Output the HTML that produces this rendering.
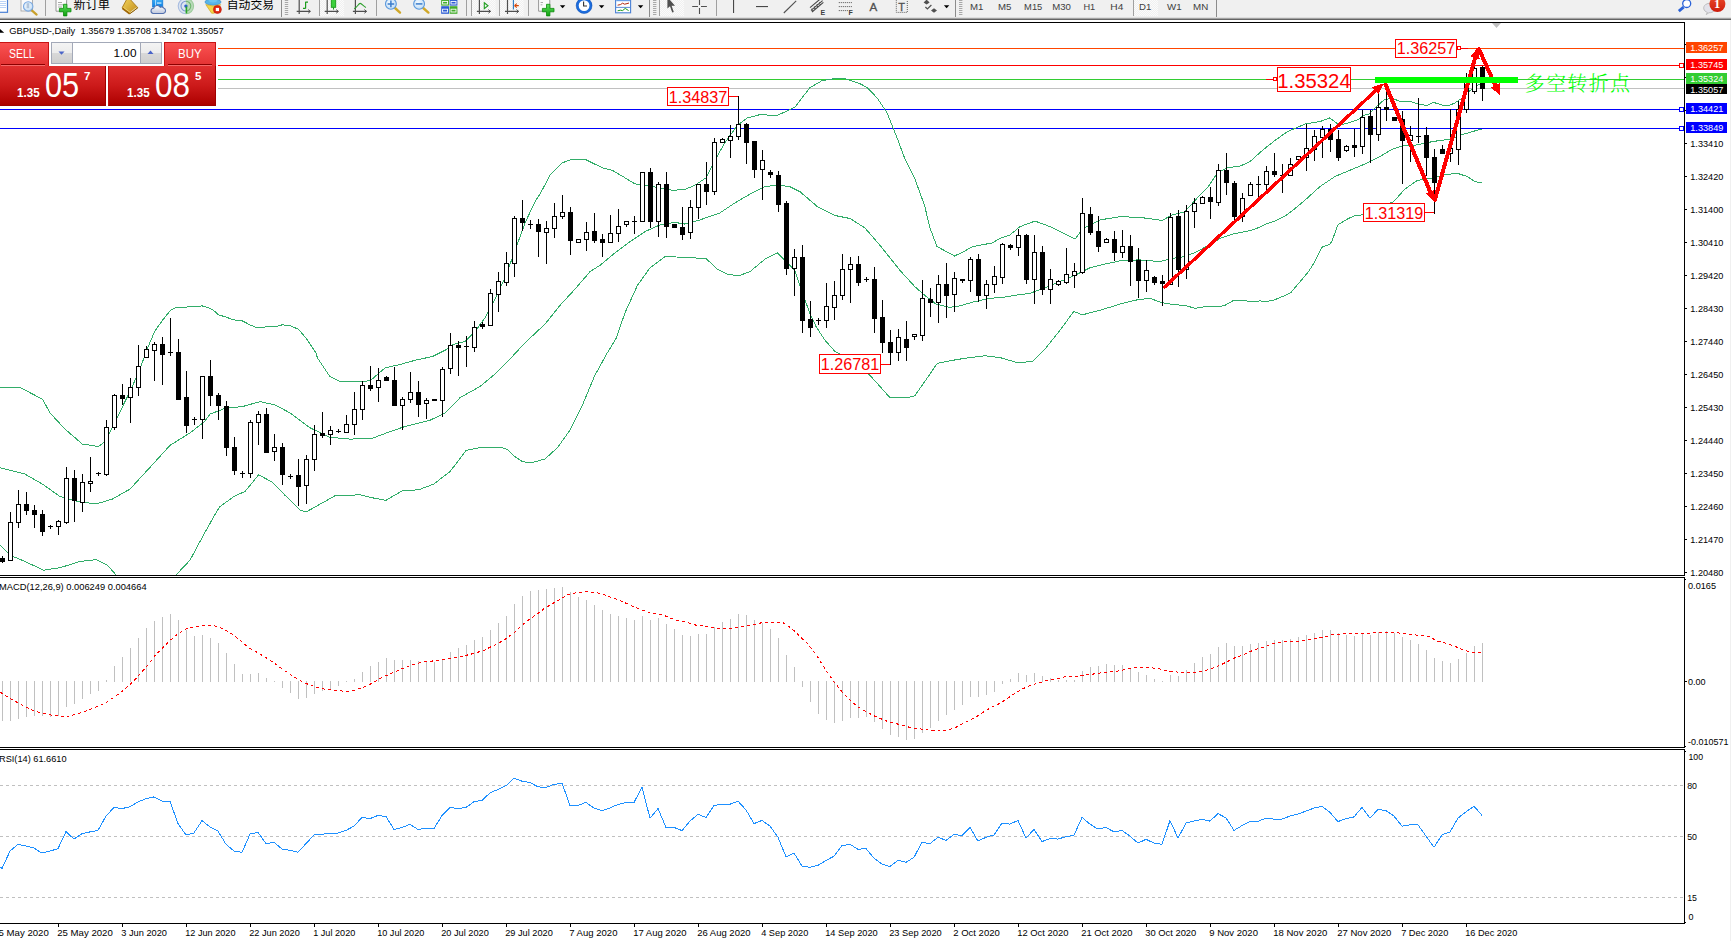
<!DOCTYPE html>
<html><head><meta charset="utf-8"><title>GBPUSD Daily</title>
<style>
html,body{margin:0;padding:0;background:#fff;}
body{width:1731px;height:941px;overflow:hidden;position:relative;font-family:"Liberation Sans","Noto Sans CJK SC",sans-serif;}
#tb{position:absolute;left:0;top:0;width:1731px;height:20px;background:#f0f0f0;overflow:hidden;}
#tb .bl{position:absolute;left:0;width:1731px;height:1px;}
#chart{position:absolute;left:0;top:0;}
#chart text{font-family:"Liberation Sans","Noto Sans CJK SC",sans-serif;}
#redge{position:absolute;left:1730px;top:20px;width:1px;height:921px;background:#f0f0f0;}
.t{position:absolute;white-space:nowrap;}
</style></head><body>
<svg id="chart" width="1731" height="941" viewBox="0 0 1731 941">
<defs><clipPath id="cm"><rect x="0" y="23" width="1684" height="552"/></clipPath></defs>
<g shape-rendering="crispEdges">
<rect x="0" y="22" width="1685" height="1" fill="#000"/>
<rect x="1684" y="22" width="1" height="554" fill="#000"/>
<rect x="1684" y="577" width="1" height="171" fill="#000"/>
<rect x="1684" y="749" width="1" height="175" fill="#000"/>
<rect x="0" y="575" width="1685" height="1" fill="#000"/>
<rect x="0" y="577" width="1685" height="1" fill="#000"/>
<rect x="0" y="747" width="1685" height="1" fill="#000"/>
<rect x="0" y="749" width="1685" height="1" fill="#000"/>
<rect x="0" y="923" width="1685" height="1" fill="#000"/>
<rect x="0" y="48" width="1684" height="1" fill="#ff4500"/>
<rect x="0" y="65" width="1684" height="1" fill="#ff0000"/>
<rect x="0" y="79" width="1684" height="1" fill="#32cd32"/>
<rect x="0" y="88" width="1684" height="1" fill="#c0c0c0"/>
<rect x="0" y="109" width="1684" height="1" fill="#0000ff"/>
<rect x="0" y="128" width="1684" height="1" fill="#0000ff"/>
</g>
<g shape-rendering="crispEdges" clip-path="url(#cm)">
<polyline points="0.0,387.9 20.0,387.5 42.5,399.2 50.0,412.9 65.0,429.1 82.4,444.1 98.6,446.5 105.0,441.5 117.0,417.9 131.8,387.8 141.2,365.4 148.7,345.4 154.9,331.0 162.4,320.4 170.5,310.2 177.4,307.0 187.3,307.0 197.3,306.7 201.7,305.8 207.3,307.3 213.5,310.4 218.5,314.8 226.0,317.1 233.5,319.8 242.2,320.8 251.0,325.4 257.8,327.9 266.0,326.9 274.7,326.9 282.2,324.8 290.9,326.0 298.4,329.2 305.9,337.9 316.0,352.9 317.4,357.9 330.0,376.7 340.0,381.6 355.0,381.5 370.0,380.9 385.0,367.9 400.0,364.5 415.0,360.3 432.5,356.5 445.0,350.3 452.4,344.8 465.0,341.5 475.0,331.5 485.0,317.8 495.0,299.1 505.0,277.9 515.0,250.5 525.0,223.0 535.0,201.7 540.0,194.1 550.0,175.3 562.5,162.8 570.0,159.9 586.2,159.9 602.4,167.8 612.4,170.3 625.0,177.8 635.0,183.9 647.4,185.3 660.0,188.0 672.3,190.3 684.8,189.5 694.8,185.3 706.0,177.8 714.8,160.4 724.8,142.9 737.3,125.4 747.2,117.9 759.7,114.7 777.2,115.4 794.7,107.4 809.7,87.9 822.2,80.5 834.6,78.7 845.9,79.0 859.6,83.5 867.1,87.5 877.1,97.9 887.1,112.9 897.1,137.9 904.5,157.9 914.5,177.8 924.5,205.3 930.0,228.0 937.0,246.5 954.5,256.0 963.5,251.7 972.3,246.7 992.3,242.9 1000.0,238.5 1010.0,234.9 1020.0,226.6 1035.0,221.1 1050.0,226.6 1065.0,234.1 1075.0,239.1 1082.4,229.1 1100.0,219.9 1120.0,216.7 1140.0,217.4 1162.3,220.4 1172.3,214.9 1184.8,211.7 1197.3,197.9 1207.2,187.9 1210.0,184.1 1217.5,172.8 1227.5,167.8 1240.0,166.1 1250.0,161.6 1262.4,150.4 1275.0,140.4 1287.4,131.6 1304.9,124.1 1319.9,121.6 1329.8,117.9 1339.8,125.4 1354.8,120.9 1358.2,119.5 1362.6,115.7 1369.5,113.8 1377.6,105.6 1383.9,100.0 1388.9,98.7 1396.4,100.0 1401.4,101.9 1412.1,101.9 1417.7,103.8 1424.0,105.0 1427.8,105.0 1432.8,102.8 1436.6,103.1 1441.6,105.0 1448.0,106.0 1455.0,102.9 1462.4,97.9 1470.0,90.5 1482.0,82.5" fill="none" stroke="#32ad69" stroke-width="1"/>
<polyline points="0.0,467.8 25.0,474.1 42.5,484.1 60.0,496.5 77.4,501.5 96.0,504.0 112.4,499.1 130.0,489.1 147.3,470.3 170.0,445.4 190.0,432.9 204.7,421.5 210.0,414.1 225.0,408.4 242.4,406.6 260.0,401.6 275.0,404.9 290.0,412.9 310.0,427.8 330.0,437.3 350.0,439.1 372.3,438.3 390.0,431.6 404.7,426.6 415.0,424.0 430.0,420.2 445.0,413.2 460.0,397.7 480.0,386.5 495.0,374.0 510.0,359.0 525.0,342.8 545.0,324.1 560.0,305.4 575.0,289.1 590.0,271.7 600.0,265.3 615.0,252.8 630.0,241.6 645.0,231.6 660.0,224.9 675.0,222.4 685.0,224.1 700.0,219.9 720.0,212.9 735.0,202.9 750.0,194.1 765.0,186.7 777.3,184.9 790.0,186.7 800.0,191.7 817.5,206.7 835.0,215.5 850.0,218.5 865.0,228.0 880.0,245.4 900.0,270.4 914.8,286.6 924.8,295.4 936.1,304.1 949.8,307.4 959.8,305.9 974.8,301.6 989.8,298.4 1004.7,297.1 1015.0,295.3 1030.0,293.3 1045.0,287.8 1060.0,281.6 1075.0,275.3 1090.0,267.8 1105.0,264.1 1122.3,260.4 1140.0,259.9 1160.0,261.6 1175.0,257.9 1185.0,256.6 1197.3,251.6 1211.2,243.5 1221.2,237.9 1232.4,234.2 1249.9,230.7 1256.2,228.6 1266.1,224.0 1274.9,221.1 1284.9,216.1 1291.1,211.7 1298.6,205.5 1304.9,200.3 1319.9,186.6 1334.8,176.6 1349.8,170.3 1364.8,164.1 1379.8,156.6 1392.3,149.1 1404.7,145.4 1416.0,145.1 1432.4,141.6 1450.0,139.1 1462.4,134.6 1474.8,130.9 1482.0,129.1" fill="none" stroke="#32ad69" stroke-width="1"/>
<polyline points="0.0,545.2 10.0,555.2 25.0,561.5 43.7,570.2 60.0,567.7 80.0,561.5 96.0,559.7 107.4,565.2 117.4,576.5" fill="none" stroke="#32ad69" stroke-width="1"/>
<polyline points="174.5,576.5 190.0,560.2 204.7,532.8 216.0,512.8 220.0,506.5 235.0,495.8 245.0,491.5 258.7,474.8 272.4,482.3 285.0,495.3 300.0,510.2 306.0,512.0 317.4,505.7 334.8,495.8 359.8,494.8 374.8,498.3 386.0,500.3 402.2,490.8 418.7,489.8 433.7,484.1 450.0,471.6 466.2,450.4 482.4,447.1 502.4,447.9 507.4,449.6 514.9,456.6 522.3,461.6 531.1,462.8 544.8,459.1 557.3,447.9 569.8,430.4 582.3,405.4 594.8,375.5 607.2,353.0 616.0,338.5 625.0,312.8 637.5,285.3 650.0,267.8 665.0,256.6 685.0,257.3 706.1,258.6 717.4,269.1 727.4,274.1 738.6,275.8 750.0,271.6 765.0,259.1 777.3,252.8 785.0,260.3 794.8,270.3 802.3,292.8 809.7,312.8 816.0,326.5 825.0,340.3 835.0,351.5 845.0,356.5 857.0,364.5 868.7,374.0 880.0,386.5 890.0,397.7 907.4,397.7 914.8,395.7 924.8,381.5 937.3,363.3 949.8,360.8 964.8,358.3 984.8,355.8 999.8,357.5 1017.5,362.7 1032.5,361.5 1045.0,349.0 1060.0,330.3 1073.7,311.5 1082.4,314.8 1100.0,310.3 1120.0,304.1 1137.3,299.8 1149.8,298.3 1162.3,302.8 1174.8,304.8 1184.8,305.3 1194.8,308.3 1208.7,306.2 1218.7,306.8 1225.0,305.3 1233.0,300.7 1246.2,300.9 1252.4,301.8 1259.9,300.9 1266.1,301.8 1274.9,299.7 1282.4,296.6 1291.0,292.6 1294.8,287.8 1302.3,279.1 1308.6,271.6 1314.8,261.6 1321.7,247.3 1329.8,244.2 1332.3,240.4 1337.3,226.1 1339.1,224.0 1347.2,219.2 1353.5,216.1 1362.8,214.8 1380.0,208.0 1393.7,201.5 1405.0,189.0 1417.4,180.3 1432.4,178.3 1444.9,174.6 1457.4,173.3 1467.4,176.6 1474.8,181.6 1482.0,182.8" fill="none" stroke="#32ad69" stroke-width="1"/>
</g>
<g shape-rendering="crispEdges">
<rect x="2" y="556" width="1" height="7" fill="#000"/>
<rect x="0" y="558" width="5" height="4" fill="#000"/>
<rect x="10" y="512" width="1" height="49" fill="#000"/>
<rect x="8" y="522" width="5" height="39" fill="#000"/>
<rect x="9" y="523" width="3" height="37" fill="#fff"/>
<rect x="18" y="490" width="1" height="38" fill="#000"/>
<rect x="16" y="504" width="5" height="19" fill="#000"/>
<rect x="17" y="505" width="3" height="17" fill="#fff"/>
<rect x="26" y="492" width="1" height="23" fill="#000"/>
<rect x="24" y="504" width="5" height="7" fill="#000"/>
<rect x="34" y="505" width="1" height="23" fill="#000"/>
<rect x="32" y="510" width="5" height="5" fill="#000"/>
<rect x="42" y="510" width="1" height="26" fill="#000"/>
<rect x="40" y="514" width="5" height="18" fill="#000"/>
<rect x="50" y="525" width="1" height="4" fill="#000"/>
<rect x="48" y="526" width="5" height="1" fill="#000"/>
<rect x="58" y="520" width="1" height="15" fill="#000"/>
<rect x="56" y="521" width="5" height="6" fill="#000"/>
<rect x="57" y="522" width="3" height="4" fill="#fff"/>
<rect x="66" y="467" width="1" height="57" fill="#000"/>
<rect x="64" y="478" width="5" height="45" fill="#000"/>
<rect x="65" y="479" width="3" height="43" fill="#fff"/>
<rect x="74" y="470" width="1" height="52" fill="#000"/>
<rect x="72" y="478" width="5" height="23" fill="#000"/>
<rect x="82" y="474" width="1" height="38" fill="#000"/>
<rect x="80" y="482" width="5" height="21" fill="#000"/>
<rect x="81" y="483" width="3" height="19" fill="#fff"/>
<rect x="90" y="457" width="1" height="35" fill="#000"/>
<rect x="88" y="481" width="5" height="3" fill="#000"/>
<rect x="89" y="482" width="3" height="1" fill="#fff"/>
<rect x="98" y="472" width="1" height="4" fill="#000"/>
<rect x="96" y="473" width="5" height="1" fill="#000"/>
<rect x="106" y="420" width="1" height="56" fill="#000"/>
<rect x="104" y="427" width="5" height="48" fill="#000"/>
<rect x="105" y="428" width="3" height="46" fill="#fff"/>
<rect x="114" y="394" width="1" height="36" fill="#000"/>
<rect x="112" y="395" width="5" height="33" fill="#000"/>
<rect x="113" y="396" width="3" height="31" fill="#fff"/>
<rect x="122" y="384" width="1" height="21" fill="#000"/>
<rect x="120" y="395" width="5" height="4" fill="#000"/>
<rect x="130" y="378" width="1" height="45" fill="#000"/>
<rect x="128" y="387" width="5" height="11" fill="#000"/>
<rect x="129" y="388" width="3" height="9" fill="#fff"/>
<rect x="138" y="345" width="1" height="51" fill="#000"/>
<rect x="136" y="366" width="5" height="22" fill="#000"/>
<rect x="137" y="367" width="3" height="20" fill="#fff"/>
<rect x="146" y="346" width="1" height="12" fill="#000"/>
<rect x="144" y="349" width="5" height="9" fill="#000"/>
<rect x="145" y="350" width="3" height="7" fill="#fff"/>
<rect x="154" y="342" width="1" height="39" fill="#000"/>
<rect x="152" y="344" width="5" height="7" fill="#000"/>
<rect x="153" y="345" width="3" height="5" fill="#fff"/>
<rect x="162" y="337" width="1" height="48" fill="#000"/>
<rect x="160" y="344" width="5" height="11" fill="#000"/>
<rect x="170" y="318" width="1" height="38" fill="#000"/>
<rect x="168" y="352" width="5" height="1" fill="#000"/>
<rect x="178" y="339" width="1" height="61" fill="#000"/>
<rect x="176" y="352" width="5" height="48" fill="#000"/>
<rect x="186" y="371" width="1" height="62" fill="#000"/>
<rect x="184" y="397" width="5" height="29" fill="#000"/>
<rect x="194" y="417" width="1" height="8" fill="#000"/>
<rect x="192" y="419" width="5" height="1" fill="#000"/>
<rect x="202" y="376" width="1" height="63" fill="#000"/>
<rect x="200" y="376" width="5" height="44" fill="#000"/>
<rect x="201" y="377" width="3" height="42" fill="#fff"/>
<rect x="210" y="360" width="1" height="46" fill="#000"/>
<rect x="208" y="376" width="5" height="20" fill="#000"/>
<rect x="218" y="393" width="1" height="27" fill="#000"/>
<rect x="216" y="395" width="5" height="11" fill="#000"/>
<rect x="226" y="401" width="1" height="55" fill="#000"/>
<rect x="224" y="406" width="5" height="42" fill="#000"/>
<rect x="234" y="437" width="1" height="38" fill="#000"/>
<rect x="232" y="447" width="5" height="24" fill="#000"/>
<rect x="242" y="471" width="1" height="7" fill="#000"/>
<rect x="240" y="473" width="5" height="1" fill="#000"/>
<rect x="250" y="420" width="1" height="58" fill="#000"/>
<rect x="248" y="422" width="5" height="52" fill="#000"/>
<rect x="249" y="423" width="3" height="50" fill="#fff"/>
<rect x="258" y="411" width="1" height="34" fill="#000"/>
<rect x="256" y="414" width="5" height="9" fill="#000"/>
<rect x="257" y="415" width="3" height="7" fill="#fff"/>
<rect x="266" y="408" width="1" height="45" fill="#000"/>
<rect x="264" y="414" width="5" height="39" fill="#000"/>
<rect x="274" y="434" width="1" height="27" fill="#000"/>
<rect x="272" y="447" width="5" height="5" fill="#000"/>
<rect x="273" y="448" width="3" height="3" fill="#fff"/>
<rect x="282" y="443" width="1" height="42" fill="#000"/>
<rect x="280" y="447" width="5" height="28" fill="#000"/>
<rect x="290" y="474" width="1" height="5" fill="#000"/>
<rect x="288" y="476" width="5" height="1" fill="#000"/>
<rect x="298" y="459" width="1" height="47" fill="#000"/>
<rect x="296" y="475" width="5" height="12" fill="#000"/>
<rect x="306" y="455" width="1" height="49" fill="#000"/>
<rect x="304" y="459" width="5" height="27" fill="#000"/>
<rect x="305" y="460" width="3" height="25" fill="#fff"/>
<rect x="314" y="425" width="1" height="46" fill="#000"/>
<rect x="312" y="434" width="5" height="26" fill="#000"/>
<rect x="313" y="435" width="3" height="24" fill="#fff"/>
<rect x="322" y="412" width="1" height="26" fill="#000"/>
<rect x="320" y="433" width="5" height="3" fill="#000"/>
<rect x="330" y="426" width="1" height="19" fill="#000"/>
<rect x="328" y="430" width="5" height="5" fill="#000"/>
<rect x="329" y="431" width="3" height="3" fill="#fff"/>
<rect x="338" y="429" width="1" height="4" fill="#000"/>
<rect x="336" y="431" width="5" height="1" fill="#000"/>
<rect x="346" y="415" width="1" height="18" fill="#000"/>
<rect x="344" y="424" width="5" height="9" fill="#000"/>
<rect x="345" y="425" width="3" height="7" fill="#fff"/>
<rect x="354" y="392" width="1" height="43" fill="#000"/>
<rect x="352" y="409" width="5" height="16" fill="#000"/>
<rect x="353" y="410" width="3" height="14" fill="#fff"/>
<rect x="362" y="381" width="1" height="39" fill="#000"/>
<rect x="360" y="385" width="5" height="25" fill="#000"/>
<rect x="361" y="386" width="3" height="23" fill="#fff"/>
<rect x="370" y="366" width="1" height="25" fill="#000"/>
<rect x="368" y="385" width="5" height="4" fill="#000"/>
<rect x="378" y="368" width="1" height="34" fill="#000"/>
<rect x="376" y="380" width="5" height="8" fill="#000"/>
<rect x="377" y="381" width="3" height="6" fill="#fff"/>
<rect x="386" y="376" width="1" height="5" fill="#000"/>
<rect x="384" y="377" width="5" height="4" fill="#000"/>
<rect x="394" y="367" width="1" height="39" fill="#000"/>
<rect x="392" y="380" width="5" height="26" fill="#000"/>
<rect x="402" y="397" width="1" height="33" fill="#000"/>
<rect x="400" y="399" width="5" height="7" fill="#000"/>
<rect x="401" y="400" width="3" height="5" fill="#fff"/>
<rect x="410" y="372" width="1" height="31" fill="#000"/>
<rect x="408" y="392" width="5" height="8" fill="#000"/>
<rect x="409" y="393" width="3" height="6" fill="#fff"/>
<rect x="418" y="381" width="1" height="36" fill="#000"/>
<rect x="416" y="392" width="5" height="13" fill="#000"/>
<rect x="426" y="398" width="1" height="21" fill="#000"/>
<rect x="424" y="400" width="5" height="4" fill="#000"/>
<rect x="425" y="401" width="3" height="2" fill="#fff"/>
<rect x="434" y="399" width="1" height="2" fill="#000"/>
<rect x="432" y="399" width="5" height="2" fill="#000"/>
<rect x="442" y="367" width="1" height="50" fill="#000"/>
<rect x="440" y="369" width="5" height="32" fill="#000"/>
<rect x="441" y="370" width="3" height="30" fill="#fff"/>
<rect x="450" y="333" width="1" height="41" fill="#000"/>
<rect x="448" y="345" width="5" height="24" fill="#000"/>
<rect x="449" y="346" width="3" height="22" fill="#fff"/>
<rect x="458" y="341" width="1" height="35" fill="#000"/>
<rect x="456" y="345" width="5" height="3" fill="#000"/>
<rect x="466" y="336" width="1" height="31" fill="#000"/>
<rect x="464" y="346" width="5" height="1" fill="#000"/>
<rect x="474" y="321" width="1" height="31" fill="#000"/>
<rect x="472" y="327" width="5" height="21" fill="#000"/>
<rect x="473" y="328" width="3" height="19" fill="#fff"/>
<rect x="482" y="322" width="1" height="7" fill="#000"/>
<rect x="480" y="324" width="5" height="3" fill="#000"/>
<rect x="490" y="289" width="1" height="37" fill="#000"/>
<rect x="488" y="293" width="5" height="33" fill="#000"/>
<rect x="489" y="294" width="3" height="31" fill="#fff"/>
<rect x="498" y="272" width="1" height="40" fill="#000"/>
<rect x="496" y="281" width="5" height="14" fill="#000"/>
<rect x="497" y="282" width="3" height="12" fill="#fff"/>
<rect x="506" y="252" width="1" height="34" fill="#000"/>
<rect x="504" y="263" width="5" height="20" fill="#000"/>
<rect x="505" y="264" width="3" height="18" fill="#fff"/>
<rect x="514" y="216" width="1" height="61" fill="#000"/>
<rect x="512" y="218" width="5" height="46" fill="#000"/>
<rect x="513" y="219" width="3" height="44" fill="#fff"/>
<rect x="522" y="200" width="1" height="31" fill="#000"/>
<rect x="520" y="218" width="5" height="5" fill="#000"/>
<rect x="530" y="220" width="1" height="9" fill="#000"/>
<rect x="528" y="224" width="5" height="1" fill="#000"/>
<rect x="538" y="219" width="1" height="38" fill="#000"/>
<rect x="536" y="224" width="5" height="8" fill="#000"/>
<rect x="546" y="221" width="1" height="43" fill="#000"/>
<rect x="544" y="228" width="5" height="5" fill="#000"/>
<rect x="545" y="229" width="3" height="3" fill="#fff"/>
<rect x="554" y="203" width="1" height="35" fill="#000"/>
<rect x="552" y="216" width="5" height="13" fill="#000"/>
<rect x="553" y="217" width="3" height="11" fill="#fff"/>
<rect x="562" y="195" width="1" height="24" fill="#000"/>
<rect x="560" y="212" width="5" height="5" fill="#000"/>
<rect x="561" y="213" width="3" height="3" fill="#fff"/>
<rect x="570" y="207" width="1" height="48" fill="#000"/>
<rect x="568" y="212" width="5" height="29" fill="#000"/>
<rect x="578" y="239" width="1" height="4" fill="#000"/>
<rect x="576" y="239" width="5" height="4" fill="#000"/>
<rect x="577" y="240" width="3" height="2" fill="#fff"/>
<rect x="586" y="222" width="1" height="29" fill="#000"/>
<rect x="584" y="232" width="5" height="8" fill="#000"/>
<rect x="585" y="233" width="3" height="6" fill="#fff"/>
<rect x="594" y="213" width="1" height="30" fill="#000"/>
<rect x="592" y="231" width="5" height="10" fill="#000"/>
<rect x="602" y="234" width="1" height="23" fill="#000"/>
<rect x="600" y="239" width="5" height="4" fill="#000"/>
<rect x="610" y="215" width="1" height="28" fill="#000"/>
<rect x="608" y="233" width="5" height="10" fill="#000"/>
<rect x="609" y="234" width="3" height="8" fill="#fff"/>
<rect x="618" y="209" width="1" height="33" fill="#000"/>
<rect x="616" y="226" width="5" height="8" fill="#000"/>
<rect x="617" y="227" width="3" height="6" fill="#fff"/>
<rect x="626" y="221" width="1" height="6" fill="#000"/>
<rect x="624" y="221" width="5" height="4" fill="#000"/>
<rect x="625" y="222" width="3" height="2" fill="#fff"/>
<rect x="634" y="216" width="1" height="18" fill="#000"/>
<rect x="632" y="221" width="5" height="1" fill="#000"/>
<rect x="642" y="172" width="1" height="50" fill="#000"/>
<rect x="640" y="172" width="5" height="50" fill="#000"/>
<rect x="641" y="173" width="3" height="48" fill="#fff"/>
<rect x="650" y="168" width="1" height="60" fill="#000"/>
<rect x="648" y="172" width="5" height="50" fill="#000"/>
<rect x="658" y="182" width="1" height="55" fill="#000"/>
<rect x="656" y="184" width="5" height="38" fill="#000"/>
<rect x="657" y="185" width="3" height="36" fill="#fff"/>
<rect x="666" y="172" width="1" height="66" fill="#000"/>
<rect x="664" y="184" width="5" height="43" fill="#000"/>
<rect x="674" y="224" width="1" height="4" fill="#000"/>
<rect x="672" y="224" width="5" height="4" fill="#000"/>
<rect x="682" y="207" width="1" height="33" fill="#000"/>
<rect x="680" y="227" width="5" height="8" fill="#000"/>
<rect x="690" y="200" width="1" height="39" fill="#000"/>
<rect x="688" y="207" width="5" height="26" fill="#000"/>
<rect x="689" y="208" width="3" height="24" fill="#fff"/>
<rect x="698" y="184" width="1" height="35" fill="#000"/>
<rect x="696" y="184" width="5" height="24" fill="#000"/>
<rect x="697" y="185" width="3" height="22" fill="#fff"/>
<rect x="706" y="162" width="1" height="43" fill="#000"/>
<rect x="704" y="184" width="5" height="8" fill="#000"/>
<rect x="714" y="138" width="1" height="57" fill="#000"/>
<rect x="712" y="142" width="5" height="50" fill="#000"/>
<rect x="713" y="143" width="3" height="48" fill="#fff"/>
<rect x="722" y="138" width="1" height="5" fill="#000"/>
<rect x="720" y="139" width="5" height="4" fill="#000"/>
<rect x="721" y="140" width="3" height="2" fill="#fff"/>
<rect x="730" y="125" width="1" height="33" fill="#000"/>
<rect x="728" y="136" width="5" height="5" fill="#000"/>
<rect x="729" y="137" width="3" height="3" fill="#fff"/>
<rect x="738" y="96" width="1" height="44" fill="#000"/>
<rect x="736" y="124" width="5" height="13" fill="#000"/>
<rect x="737" y="125" width="3" height="11" fill="#fff"/>
<rect x="746" y="123" width="1" height="41" fill="#000"/>
<rect x="744" y="124" width="5" height="19" fill="#000"/>
<rect x="754" y="141" width="1" height="37" fill="#000"/>
<rect x="752" y="141" width="5" height="29" fill="#000"/>
<rect x="762" y="150" width="1" height="50" fill="#000"/>
<rect x="760" y="160" width="5" height="10" fill="#000"/>
<rect x="761" y="161" width="3" height="8" fill="#fff"/>
<rect x="770" y="170" width="1" height="8" fill="#000"/>
<rect x="768" y="172" width="5" height="3" fill="#000"/>
<rect x="778" y="171" width="1" height="41" fill="#000"/>
<rect x="776" y="175" width="5" height="30" fill="#000"/>
<rect x="786" y="201" width="1" height="74" fill="#000"/>
<rect x="784" y="203" width="5" height="66" fill="#000"/>
<rect x="794" y="249" width="1" height="47" fill="#000"/>
<rect x="792" y="257" width="5" height="12" fill="#000"/>
<rect x="793" y="258" width="3" height="10" fill="#fff"/>
<rect x="802" y="245" width="1" height="88" fill="#000"/>
<rect x="800" y="257" width="5" height="64" fill="#000"/>
<rect x="810" y="301" width="1" height="36" fill="#000"/>
<rect x="808" y="319" width="5" height="9" fill="#000"/>
<rect x="818" y="318" width="1" height="7" fill="#000"/>
<rect x="816" y="320" width="5" height="1" fill="#000"/>
<rect x="826" y="283" width="1" height="45" fill="#000"/>
<rect x="824" y="306" width="5" height="15" fill="#000"/>
<rect x="825" y="307" width="3" height="13" fill="#fff"/>
<rect x="834" y="281" width="1" height="39" fill="#000"/>
<rect x="832" y="295" width="5" height="13" fill="#000"/>
<rect x="833" y="296" width="3" height="11" fill="#fff"/>
<rect x="842" y="254" width="1" height="46" fill="#000"/>
<rect x="840" y="269" width="5" height="27" fill="#000"/>
<rect x="841" y="270" width="3" height="25" fill="#fff"/>
<rect x="850" y="257" width="1" height="46" fill="#000"/>
<rect x="848" y="264" width="5" height="6" fill="#000"/>
<rect x="849" y="265" width="3" height="4" fill="#fff"/>
<rect x="858" y="256" width="1" height="30" fill="#000"/>
<rect x="856" y="264" width="5" height="19" fill="#000"/>
<rect x="866" y="277" width="1" height="5" fill="#000"/>
<rect x="864" y="279" width="5" height="1" fill="#000"/>
<rect x="874" y="267" width="1" height="66" fill="#000"/>
<rect x="872" y="279" width="5" height="40" fill="#000"/>
<rect x="882" y="300" width="1" height="53" fill="#000"/>
<rect x="880" y="317" width="5" height="26" fill="#000"/>
<rect x="890" y="330" width="1" height="35" fill="#000"/>
<rect x="888" y="342" width="5" height="11" fill="#000"/>
<rect x="898" y="329" width="1" height="32" fill="#000"/>
<rect x="896" y="337" width="5" height="16" fill="#000"/>
<rect x="897" y="338" width="3" height="14" fill="#fff"/>
<rect x="906" y="321" width="1" height="40" fill="#000"/>
<rect x="904" y="339" width="5" height="9" fill="#000"/>
<rect x="914" y="334" width="1" height="6" fill="#000"/>
<rect x="912" y="334" width="5" height="3" fill="#000"/>
<rect x="913" y="335" width="3" height="1" fill="#fff"/>
<rect x="922" y="280" width="1" height="61" fill="#000"/>
<rect x="920" y="298" width="5" height="38" fill="#000"/>
<rect x="921" y="299" width="3" height="36" fill="#fff"/>
<rect x="930" y="288" width="1" height="29" fill="#000"/>
<rect x="928" y="299" width="5" height="4" fill="#000"/>
<rect x="938" y="275" width="1" height="48" fill="#000"/>
<rect x="936" y="284" width="5" height="19" fill="#000"/>
<rect x="937" y="285" width="3" height="17" fill="#fff"/>
<rect x="946" y="263" width="1" height="55" fill="#000"/>
<rect x="944" y="284" width="5" height="12" fill="#000"/>
<rect x="954" y="272" width="1" height="40" fill="#000"/>
<rect x="952" y="278" width="5" height="17" fill="#000"/>
<rect x="953" y="279" width="3" height="15" fill="#fff"/>
<rect x="962" y="279" width="1" height="4" fill="#000"/>
<rect x="960" y="279" width="5" height="2" fill="#000"/>
<rect x="970" y="257" width="1" height="35" fill="#000"/>
<rect x="968" y="259" width="5" height="22" fill="#000"/>
<rect x="969" y="260" width="3" height="20" fill="#fff"/>
<rect x="978" y="254" width="1" height="48" fill="#000"/>
<rect x="976" y="259" width="5" height="37" fill="#000"/>
<rect x="986" y="280" width="1" height="29" fill="#000"/>
<rect x="984" y="284" width="5" height="12" fill="#000"/>
<rect x="985" y="285" width="3" height="10" fill="#fff"/>
<rect x="994" y="266" width="1" height="27" fill="#000"/>
<rect x="992" y="276" width="5" height="9" fill="#000"/>
<rect x="993" y="277" width="3" height="7" fill="#fff"/>
<rect x="1002" y="243" width="1" height="41" fill="#000"/>
<rect x="1000" y="244" width="5" height="34" fill="#000"/>
<rect x="1001" y="245" width="3" height="32" fill="#fff"/>
<rect x="1010" y="244" width="1" height="6" fill="#000"/>
<rect x="1008" y="245" width="5" height="3" fill="#000"/>
<rect x="1018" y="229" width="1" height="27" fill="#000"/>
<rect x="1016" y="235" width="5" height="13" fill="#000"/>
<rect x="1017" y="236" width="3" height="11" fill="#fff"/>
<rect x="1026" y="234" width="1" height="50" fill="#000"/>
<rect x="1024" y="235" width="5" height="45" fill="#000"/>
<rect x="1034" y="235" width="1" height="69" fill="#000"/>
<rect x="1032" y="252" width="5" height="28" fill="#000"/>
<rect x="1033" y="253" width="3" height="26" fill="#fff"/>
<rect x="1042" y="246" width="1" height="49" fill="#000"/>
<rect x="1040" y="252" width="5" height="38" fill="#000"/>
<rect x="1050" y="269" width="1" height="35" fill="#000"/>
<rect x="1048" y="279" width="5" height="11" fill="#000"/>
<rect x="1049" y="280" width="3" height="9" fill="#fff"/>
<rect x="1058" y="280" width="1" height="6" fill="#000"/>
<rect x="1056" y="281" width="5" height="4" fill="#000"/>
<rect x="1057" y="282" width="3" height="2" fill="#fff"/>
<rect x="1066" y="248" width="1" height="36" fill="#000"/>
<rect x="1064" y="274" width="5" height="9" fill="#000"/>
<rect x="1065" y="275" width="3" height="7" fill="#fff"/>
<rect x="1074" y="263" width="1" height="25" fill="#000"/>
<rect x="1072" y="271" width="5" height="5" fill="#000"/>
<rect x="1073" y="272" width="3" height="3" fill="#fff"/>
<rect x="1082" y="198" width="1" height="76" fill="#000"/>
<rect x="1080" y="213" width="5" height="60" fill="#000"/>
<rect x="1081" y="214" width="3" height="58" fill="#fff"/>
<rect x="1090" y="207" width="1" height="28" fill="#000"/>
<rect x="1088" y="214" width="5" height="19" fill="#000"/>
<rect x="1098" y="216" width="1" height="36" fill="#000"/>
<rect x="1096" y="231" width="5" height="16" fill="#000"/>
<rect x="1106" y="238" width="1" height="5" fill="#000"/>
<rect x="1104" y="239" width="5" height="4" fill="#000"/>
<rect x="1105" y="240" width="3" height="2" fill="#fff"/>
<rect x="1114" y="231" width="1" height="30" fill="#000"/>
<rect x="1112" y="239" width="5" height="14" fill="#000"/>
<rect x="1122" y="230" width="1" height="28" fill="#000"/>
<rect x="1120" y="246" width="5" height="7" fill="#000"/>
<rect x="1121" y="247" width="3" height="5" fill="#fff"/>
<rect x="1130" y="235" width="1" height="51" fill="#000"/>
<rect x="1128" y="246" width="5" height="16" fill="#000"/>
<rect x="1138" y="248" width="1" height="50" fill="#000"/>
<rect x="1136" y="260" width="5" height="21" fill="#000"/>
<rect x="1146" y="260" width="1" height="32" fill="#000"/>
<rect x="1144" y="270" width="5" height="11" fill="#000"/>
<rect x="1145" y="271" width="3" height="9" fill="#fff"/>
<rect x="1154" y="276" width="1" height="9" fill="#000"/>
<rect x="1152" y="277" width="5" height="6" fill="#000"/>
<rect x="1162" y="275" width="1" height="31" fill="#000"/>
<rect x="1160" y="281" width="5" height="3" fill="#000"/>
<rect x="1170" y="213" width="1" height="72" fill="#000"/>
<rect x="1168" y="217" width="5" height="68" fill="#000"/>
<rect x="1169" y="218" width="3" height="66" fill="#fff"/>
<rect x="1178" y="210" width="1" height="77" fill="#000"/>
<rect x="1176" y="216" width="5" height="54" fill="#000"/>
<rect x="1186" y="205" width="1" height="74" fill="#000"/>
<rect x="1184" y="211" width="5" height="59" fill="#000"/>
<rect x="1185" y="212" width="3" height="57" fill="#fff"/>
<rect x="1194" y="198" width="1" height="30" fill="#000"/>
<rect x="1192" y="203" width="5" height="9" fill="#000"/>
<rect x="1193" y="204" width="3" height="7" fill="#fff"/>
<rect x="1202" y="196" width="1" height="8" fill="#000"/>
<rect x="1200" y="197" width="5" height="7" fill="#000"/>
<rect x="1201" y="198" width="3" height="5" fill="#fff"/>
<rect x="1210" y="187" width="1" height="32" fill="#000"/>
<rect x="1208" y="197" width="5" height="5" fill="#000"/>
<rect x="1218" y="164" width="1" height="42" fill="#000"/>
<rect x="1216" y="170" width="5" height="33" fill="#000"/>
<rect x="1217" y="171" width="3" height="31" fill="#fff"/>
<rect x="1226" y="153" width="1" height="42" fill="#000"/>
<rect x="1224" y="170" width="5" height="13" fill="#000"/>
<rect x="1234" y="181" width="1" height="39" fill="#000"/>
<rect x="1232" y="183" width="5" height="34" fill="#000"/>
<rect x="1242" y="193" width="1" height="29" fill="#000"/>
<rect x="1240" y="198" width="5" height="19" fill="#000"/>
<rect x="1241" y="199" width="3" height="17" fill="#fff"/>
<rect x="1250" y="182" width="1" height="14" fill="#000"/>
<rect x="1248" y="184" width="5" height="12" fill="#000"/>
<rect x="1249" y="185" width="3" height="10" fill="#fff"/>
<rect x="1258" y="176" width="1" height="25" fill="#000"/>
<rect x="1256" y="184" width="5" height="1" fill="#000"/>
<rect x="1266" y="166" width="1" height="25" fill="#000"/>
<rect x="1264" y="171" width="5" height="14" fill="#000"/>
<rect x="1265" y="172" width="3" height="12" fill="#fff"/>
<rect x="1274" y="153" width="1" height="24" fill="#000"/>
<rect x="1272" y="171" width="5" height="4" fill="#000"/>
<rect x="1282" y="164" width="1" height="29" fill="#000"/>
<rect x="1280" y="175" width="5" height="1" fill="#000"/>
<rect x="1290" y="158" width="1" height="18" fill="#000"/>
<rect x="1288" y="164" width="5" height="12" fill="#000"/>
<rect x="1289" y="165" width="3" height="10" fill="#fff"/>
<rect x="1298" y="156" width="1" height="4" fill="#000"/>
<rect x="1296" y="156" width="5" height="4" fill="#000"/>
<rect x="1297" y="157" width="3" height="2" fill="#fff"/>
<rect x="1306" y="124" width="1" height="47" fill="#000"/>
<rect x="1304" y="148" width="5" height="10" fill="#000"/>
<rect x="1305" y="149" width="3" height="8" fill="#fff"/>
<rect x="1314" y="130" width="1" height="31" fill="#000"/>
<rect x="1312" y="136" width="5" height="14" fill="#000"/>
<rect x="1313" y="137" width="3" height="12" fill="#fff"/>
<rect x="1322" y="126" width="1" height="32" fill="#000"/>
<rect x="1320" y="129" width="5" height="9" fill="#000"/>
<rect x="1321" y="130" width="3" height="7" fill="#fff"/>
<rect x="1330" y="124" width="1" height="28" fill="#000"/>
<rect x="1328" y="129" width="5" height="11" fill="#000"/>
<rect x="1338" y="130" width="1" height="31" fill="#000"/>
<rect x="1336" y="139" width="5" height="19" fill="#000"/>
<rect x="1346" y="145" width="1" height="7" fill="#000"/>
<rect x="1344" y="146" width="5" height="5" fill="#000"/>
<rect x="1345" y="147" width="3" height="3" fill="#fff"/>
<rect x="1354" y="129" width="1" height="28" fill="#000"/>
<rect x="1352" y="145" width="5" height="3" fill="#000"/>
<rect x="1362" y="110" width="1" height="44" fill="#000"/>
<rect x="1360" y="117" width="5" height="30" fill="#000"/>
<rect x="1361" y="118" width="3" height="28" fill="#fff"/>
<rect x="1370" y="110" width="1" height="53" fill="#000"/>
<rect x="1368" y="116" width="5" height="19" fill="#000"/>
<rect x="1378" y="91" width="1" height="50" fill="#000"/>
<rect x="1376" y="107" width="5" height="28" fill="#000"/>
<rect x="1377" y="108" width="3" height="26" fill="#fff"/>
<rect x="1386" y="79" width="1" height="42" fill="#000"/>
<rect x="1384" y="107" width="5" height="3" fill="#000"/>
<rect x="1394" y="117" width="1" height="4" fill="#000"/>
<rect x="1392" y="117" width="5" height="4" fill="#000"/>
<rect x="1402" y="111" width="1" height="73" fill="#000"/>
<rect x="1400" y="119" width="5" height="22" fill="#000"/>
<rect x="1410" y="126" width="1" height="36" fill="#000"/>
<rect x="1408" y="135" width="5" height="6" fill="#000"/>
<rect x="1409" y="136" width="3" height="4" fill="#fff"/>
<rect x="1418" y="98" width="1" height="45" fill="#000"/>
<rect x="1416" y="136" width="5" height="1" fill="#000"/>
<rect x="1426" y="127" width="1" height="49" fill="#000"/>
<rect x="1424" y="135" width="5" height="23" fill="#000"/>
<rect x="1434" y="149" width="1" height="65" fill="#000"/>
<rect x="1432" y="157" width="5" height="26" fill="#000"/>
<rect x="1442" y="145" width="1" height="9" fill="#000"/>
<rect x="1440" y="149" width="5" height="5" fill="#000"/>
<rect x="1450" y="109" width="1" height="53" fill="#000"/>
<rect x="1448" y="148" width="5" height="6" fill="#000"/>
<rect x="1449" y="149" width="3" height="4" fill="#fff"/>
<rect x="1458" y="101" width="1" height="64" fill="#000"/>
<rect x="1456" y="109" width="5" height="41" fill="#000"/>
<rect x="1457" y="110" width="3" height="39" fill="#fff"/>
<rect x="1466" y="73" width="1" height="40" fill="#000"/>
<rect x="1464" y="82" width="5" height="28" fill="#000"/>
<rect x="1465" y="83" width="3" height="26" fill="#fff"/>
<rect x="1474" y="56" width="1" height="38" fill="#000"/>
<rect x="1472" y="68" width="5" height="24" fill="#000"/>
<rect x="1473" y="69" width="3" height="22" fill="#fff"/>
<rect x="1482" y="66" width="1" height="35" fill="#000"/>
<rect x="1480" y="67" width="5" height="22" fill="#000"/>
</g>
<line x1="1163.5" y1="288" x2="1380.6" y2="86.0" stroke="#ff0000" stroke-width="3.4" shape-rendering="crispEdges"/>
<polygon points="1383.5,83.3 1378.7,94.3 1372.2,87.3" fill="#ff0000" shape-rendering="crispEdges"/>
<line x1="1385" y1="83.3" x2="1432.8" y2="198.0" stroke="#ff0000" stroke-width="4.0" shape-rendering="crispEdges"/>
<polygon points="1434.3,201.7 1425.6,193.4 1434.5,189.7" fill="#ff0000" shape-rendering="crispEdges"/>
<line x1="1434.3" y1="201.7" x2="1477.0" y2="51.1" stroke="#ff0000" stroke-width="4.0" shape-rendering="crispEdges"/>
<polygon points="1478.1,47.3 1479.7,59.2 1470.5,56.6" fill="#ff0000" shape-rendering="crispEdges"/>
<line x1="1478.1" y1="47.3" x2="1498.2" y2="91.7" stroke="#ff0000" stroke-width="4.0" shape-rendering="crispEdges"/>
<polygon points="1499.8,95.3 1490.9,87.3 1499.6,83.3" fill="#ff0000" shape-rendering="crispEdges"/>
<rect x="1375" y="77" width="143" height="6" fill="#00ff00" shape-rendering="crispEdges"/>
<rect x="667.5" y="87.5" width="61" height="18" fill="#fff" stroke="#ff0000" stroke-width="1" shape-rendering="crispEdges"/>
<text x="698.0" y="102.63199999999999" font-size="16.2" fill="#ff0000" text-anchor="middle">1.34837</text>
<path d="M729 96.5H738" fill="none" stroke="#ff0000" stroke-width="1" shape-rendering="crispEdges"/>
<rect x="819.5" y="354.5" width="61" height="19" fill="#fff" stroke="#ff0000" stroke-width="1" shape-rendering="crispEdges"/>
<text x="850.0" y="369.832" font-size="16.2" fill="#ff0000" text-anchor="middle">1.26781</text>
<path d="M881 364.5H890" fill="none" stroke="#ff0000" stroke-width="1" shape-rendering="crispEdges"/>
<rect x="1363.5" y="203.5" width="61" height="18" fill="#fff" stroke="#ff0000" stroke-width="1" shape-rendering="crispEdges"/>
<text x="1394.0" y="218.632" font-size="16.2" fill="#ff0000" text-anchor="middle">1.31319</text>
<path d="M1425 212.5H1434" fill="none" stroke="#ff0000" stroke-width="1" shape-rendering="crispEdges"/>
<rect x="1395.5" y="39.5" width="61" height="18" fill="#fff" stroke="#ff0000" stroke-width="1" shape-rendering="crispEdges"/>
<text x="1426.0" y="54.332" font-size="16.2" fill="#ff0000" text-anchor="middle">1.36257</text>
<rect x="1457.5" y="46.5" width="3" height="3" fill="#fff" stroke="#ff0000" shape-rendering="crispEdges"/><path d="M1461 48.5H1468" stroke="#ff0000" shape-rendering="crispEdges"/>
<rect x="1277.5" y="67.5" width="73" height="24" fill="#fff" stroke="#ff0000" stroke-width="1" shape-rendering="crispEdges"/>
<text x="1314.0" y="88.008" font-size="20.3" fill="#ff0000" text-anchor="middle">1.35324</text>
<rect x="1273.5" y="77.5" width="3" height="3" fill="#fff" stroke="#ff0000" shape-rendering="crispEdges"/><path d="M1266 79.5H1273" stroke="#ff0000" shape-rendering="crispEdges"/>
<text x="1524.6" y="91" font-size="20" letter-spacing="1.35" fill="#00ff00" style="font-family:'Liberation Serif','Noto Serif CJK SC',serif;font-weight:300">多空转折点</text>
<text x="9.2" y="34" font-size="9.8" fill="#000" text-anchor="start" textLength="214.6" lengthAdjust="spacingAndGlyphs" style="white-space:pre">GBPUSD-,Daily  1.35679 1.35708 1.34702 1.35057</text>
<polygon points="1492,23 1501,23 1496.5,28" fill="#c0c0c0"/>
<g shape-rendering="crispEdges">
<rect x="1685" y="44" width="2" height="1" fill="#000"/>
<rect x="1685" y="77" width="2" height="1" fill="#000"/>
<rect x="1685" y="110" width="2" height="1" fill="#000"/>
<rect x="1685" y="143" width="2" height="1" fill="#000"/>
<rect x="1685" y="176" width="2" height="1" fill="#000"/>
<rect x="1685" y="209" width="2" height="1" fill="#000"/>
<rect x="1685" y="242" width="2" height="1" fill="#000"/>
<rect x="1685" y="275" width="2" height="1" fill="#000"/>
<rect x="1685" y="308" width="2" height="1" fill="#000"/>
<rect x="1685" y="341" width="2" height="1" fill="#000"/>
<rect x="1685" y="374" width="2" height="1" fill="#000"/>
<rect x="1685" y="407" width="2" height="1" fill="#000"/>
<rect x="1685" y="440" width="2" height="1" fill="#000"/>
<rect x="1685" y="473" width="2" height="1" fill="#000"/>
<rect x="1685" y="506" width="2" height="1" fill="#000"/>
<rect x="1685" y="539" width="2" height="1" fill="#000"/>
<rect x="1685" y="572" width="2" height="1" fill="#000"/>
</g>
<text x="1690.3" y="47.6" font-size="9.8" fill="#000" text-anchor="start" textLength="33" lengthAdjust="spacingAndGlyphs">1.36380</text>
<text x="1690.3" y="80.6" font-size="9.8" fill="#000" text-anchor="start" textLength="33" lengthAdjust="spacingAndGlyphs">1.35390</text>
<text x="1690.3" y="113.6" font-size="9.8" fill="#000" text-anchor="start" textLength="33" lengthAdjust="spacingAndGlyphs">1.34400</text>
<text x="1690.3" y="146.6" font-size="9.8" fill="#000" text-anchor="start" textLength="33" lengthAdjust="spacingAndGlyphs">1.33410</text>
<text x="1690.3" y="179.6" font-size="9.8" fill="#000" text-anchor="start" textLength="33" lengthAdjust="spacingAndGlyphs">1.32420</text>
<text x="1690.3" y="212.6" font-size="9.8" fill="#000" text-anchor="start" textLength="33" lengthAdjust="spacingAndGlyphs">1.31400</text>
<text x="1690.3" y="245.6" font-size="9.8" fill="#000" text-anchor="start" textLength="33" lengthAdjust="spacingAndGlyphs">1.30410</text>
<text x="1690.3" y="278.6" font-size="9.8" fill="#000" text-anchor="start" textLength="33" lengthAdjust="spacingAndGlyphs">1.29420</text>
<text x="1690.3" y="311.6" font-size="9.8" fill="#000" text-anchor="start" textLength="33" lengthAdjust="spacingAndGlyphs">1.28430</text>
<text x="1690.3" y="344.6" font-size="9.8" fill="#000" text-anchor="start" textLength="33" lengthAdjust="spacingAndGlyphs">1.27440</text>
<text x="1690.3" y="377.6" font-size="9.8" fill="#000" text-anchor="start" textLength="33" lengthAdjust="spacingAndGlyphs">1.26450</text>
<text x="1690.3" y="410.6" font-size="9.8" fill="#000" text-anchor="start" textLength="33" lengthAdjust="spacingAndGlyphs">1.25430</text>
<text x="1690.3" y="443.6" font-size="9.8" fill="#000" text-anchor="start" textLength="33" lengthAdjust="spacingAndGlyphs">1.24440</text>
<text x="1690.3" y="476.6" font-size="9.8" fill="#000" text-anchor="start" textLength="33" lengthAdjust="spacingAndGlyphs">1.23450</text>
<text x="1690.3" y="509.6" font-size="9.8" fill="#000" text-anchor="start" textLength="33" lengthAdjust="spacingAndGlyphs">1.22460</text>
<text x="1690.3" y="542.6" font-size="9.8" fill="#000" text-anchor="start" textLength="33" lengthAdjust="spacingAndGlyphs">1.21470</text>
<text x="1690.3" y="575.6" font-size="9.8" fill="#000" text-anchor="start" textLength="33" lengthAdjust="spacingAndGlyphs">1.20480</text>
<rect x="1686" y="42" width="41" height="11" fill="#ff4500" shape-rendering="crispEdges"/>
<text x="1690.3" y="50.6" font-size="9.8" fill="#fff" text-anchor="start" textLength="33" lengthAdjust="spacingAndGlyphs">1.36257</text>
<rect x="1686" y="59" width="41" height="11" fill="#ff0000" shape-rendering="crispEdges"/>
<text x="1690.3" y="67.6" font-size="9.8" fill="#fff" text-anchor="start" textLength="33" lengthAdjust="spacingAndGlyphs">1.35745</text>
<rect x="1686" y="73" width="41" height="11" fill="#32cd32" shape-rendering="crispEdges"/>
<text x="1690.3" y="81.6" font-size="9.8" fill="#fff" text-anchor="start" textLength="33" lengthAdjust="spacingAndGlyphs">1.35324</text>
<rect x="1686" y="84" width="41" height="10" fill="#000000" shape-rendering="crispEdges"/>
<text x="1690.3" y="92.6" font-size="9.8" fill="#fff" text-anchor="start" textLength="33" lengthAdjust="spacingAndGlyphs">1.35057</text>
<rect x="1686" y="103" width="41" height="11" fill="#0000ff" shape-rendering="crispEdges"/>
<text x="1690.3" y="111.6" font-size="9.8" fill="#fff" text-anchor="start" textLength="33" lengthAdjust="spacingAndGlyphs">1.34421</text>
<rect x="1686" y="122" width="41" height="11" fill="#0000ff" shape-rendering="crispEdges"/>
<text x="1690.3" y="130.6" font-size="9.8" fill="#fff" text-anchor="start" textLength="33" lengthAdjust="spacingAndGlyphs">1.33849</text>
<rect x="1679.5" y="63.5" width="4" height="4" fill="#fff" stroke="#ff0000" shape-rendering="crispEdges"/>
<rect x="1679.5" y="107.5" width="4" height="4" fill="#fff" stroke="#0000ff" shape-rendering="crispEdges"/>
<rect x="1679.5" y="126.5" width="4" height="4" fill="#fff" stroke="#0000ff" shape-rendering="crispEdges"/>
<g shape-rendering="crispEdges">
<rect x="2" y="681" width="1" height="40" fill="#c0c0c0"/>
<rect x="10" y="681" width="1" height="40" fill="#c0c0c0"/>
<rect x="18" y="681" width="1" height="38" fill="#c0c0c0"/>
<rect x="26" y="681" width="1" height="36" fill="#c0c0c0"/>
<rect x="34" y="681" width="1" height="35" fill="#c0c0c0"/>
<rect x="42" y="681" width="1" height="35" fill="#c0c0c0"/>
<rect x="50" y="681" width="1" height="36" fill="#c0c0c0"/>
<rect x="58" y="681" width="1" height="35" fill="#c0c0c0"/>
<rect x="66" y="681" width="1" height="26" fill="#c0c0c0"/>
<rect x="74" y="681" width="1" height="23" fill="#c0c0c0"/>
<rect x="82" y="681" width="1" height="18" fill="#c0c0c0"/>
<rect x="90" y="681" width="1" height="13" fill="#c0c0c0"/>
<rect x="98" y="681" width="1" height="10" fill="#c0c0c0"/>
<rect x="106" y="680" width="1" height="2" fill="#c0c0c0"/>
<rect x="114" y="666" width="1" height="16" fill="#c0c0c0"/>
<rect x="122" y="657" width="1" height="25" fill="#c0c0c0"/>
<rect x="130" y="648" width="1" height="34" fill="#c0c0c0"/>
<rect x="138" y="638" width="1" height="44" fill="#c0c0c0"/>
<rect x="146" y="628" width="1" height="54" fill="#c0c0c0"/>
<rect x="154" y="621" width="1" height="61" fill="#c0c0c0"/>
<rect x="162" y="617" width="1" height="65" fill="#c0c0c0"/>
<rect x="170" y="614" width="1" height="68" fill="#c0c0c0"/>
<rect x="178" y="620" width="1" height="62" fill="#c0c0c0"/>
<rect x="186" y="630" width="1" height="52" fill="#c0c0c0"/>
<rect x="194" y="636" width="1" height="46" fill="#c0c0c0"/>
<rect x="202" y="635" width="1" height="47" fill="#c0c0c0"/>
<rect x="210" y="638" width="1" height="44" fill="#c0c0c0"/>
<rect x="218" y="643" width="1" height="39" fill="#c0c0c0"/>
<rect x="226" y="653" width="1" height="29" fill="#c0c0c0"/>
<rect x="234" y="664" width="1" height="18" fill="#c0c0c0"/>
<rect x="242" y="674" width="1" height="8" fill="#c0c0c0"/>
<rect x="250" y="674" width="1" height="8" fill="#c0c0c0"/>
<rect x="258" y="673" width="1" height="9" fill="#c0c0c0"/>
<rect x="266" y="678" width="1" height="4" fill="#c0c0c0"/>
<rect x="274" y="681" width="1" height="1" fill="#c0c0c0"/>
<rect x="282" y="681" width="1" height="7" fill="#c0c0c0"/>
<rect x="290" y="681" width="1" height="12" fill="#c0c0c0"/>
<rect x="298" y="681" width="1" height="18" fill="#c0c0c0"/>
<rect x="306" y="681" width="1" height="17" fill="#c0c0c0"/>
<rect x="314" y="681" width="1" height="13" fill="#c0c0c0"/>
<rect x="322" y="681" width="1" height="10" fill="#c0c0c0"/>
<rect x="330" y="681" width="1" height="8" fill="#c0c0c0"/>
<rect x="338" y="681" width="1" height="5" fill="#c0c0c0"/>
<rect x="346" y="681" width="1" height="1" fill="#c0c0c0"/>
<rect x="354" y="679" width="1" height="3" fill="#c0c0c0"/>
<rect x="362" y="672" width="1" height="10" fill="#c0c0c0"/>
<rect x="370" y="666" width="1" height="16" fill="#c0c0c0"/>
<rect x="378" y="662" width="1" height="20" fill="#c0c0c0"/>
<rect x="386" y="658" width="1" height="24" fill="#c0c0c0"/>
<rect x="394" y="660" width="1" height="22" fill="#c0c0c0"/>
<rect x="402" y="660" width="1" height="22" fill="#c0c0c0"/>
<rect x="410" y="660" width="1" height="22" fill="#c0c0c0"/>
<rect x="418" y="661" width="1" height="21" fill="#c0c0c0"/>
<rect x="426" y="661" width="1" height="21" fill="#c0c0c0"/>
<rect x="434" y="662" width="1" height="20" fill="#c0c0c0"/>
<rect x="442" y="660" width="1" height="22" fill="#c0c0c0"/>
<rect x="450" y="652" width="1" height="30" fill="#c0c0c0"/>
<rect x="458" y="648" width="1" height="34" fill="#c0c0c0"/>
<rect x="466" y="645" width="1" height="37" fill="#c0c0c0"/>
<rect x="474" y="640" width="1" height="42" fill="#c0c0c0"/>
<rect x="482" y="637" width="1" height="45" fill="#c0c0c0"/>
<rect x="490" y="630" width="1" height="52" fill="#c0c0c0"/>
<rect x="498" y="623" width="1" height="59" fill="#c0c0c0"/>
<rect x="506" y="616" width="1" height="66" fill="#c0c0c0"/>
<rect x="514" y="604" width="1" height="78" fill="#c0c0c0"/>
<rect x="522" y="596" width="1" height="86" fill="#c0c0c0"/>
<rect x="530" y="591" width="1" height="91" fill="#c0c0c0"/>
<rect x="538" y="590" width="1" height="92" fill="#c0c0c0"/>
<rect x="546" y="589" width="1" height="93" fill="#c0c0c0"/>
<rect x="554" y="588" width="1" height="94" fill="#c0c0c0"/>
<rect x="562" y="587" width="1" height="95" fill="#c0c0c0"/>
<rect x="570" y="592" width="1" height="90" fill="#c0c0c0"/>
<rect x="578" y="597" width="1" height="85" fill="#c0c0c0"/>
<rect x="586" y="600" width="1" height="82" fill="#c0c0c0"/>
<rect x="594" y="605" width="1" height="77" fill="#c0c0c0"/>
<rect x="602" y="610" width="1" height="72" fill="#c0c0c0"/>
<rect x="610" y="614" width="1" height="68" fill="#c0c0c0"/>
<rect x="618" y="616" width="1" height="66" fill="#c0c0c0"/>
<rect x="626" y="618" width="1" height="64" fill="#c0c0c0"/>
<rect x="634" y="620" width="1" height="62" fill="#c0c0c0"/>
<rect x="642" y="616" width="1" height="66" fill="#c0c0c0"/>
<rect x="650" y="620" width="1" height="62" fill="#c0c0c0"/>
<rect x="658" y="618" width="1" height="64" fill="#c0c0c0"/>
<rect x="666" y="624" width="1" height="58" fill="#c0c0c0"/>
<rect x="674" y="629" width="1" height="53" fill="#c0c0c0"/>
<rect x="682" y="635" width="1" height="47" fill="#c0c0c0"/>
<rect x="690" y="636" width="1" height="46" fill="#c0c0c0"/>
<rect x="698" y="634" width="1" height="48" fill="#c0c0c0"/>
<rect x="706" y="634" width="1" height="48" fill="#c0c0c0"/>
<rect x="714" y="627" width="1" height="55" fill="#c0c0c0"/>
<rect x="722" y="622" width="1" height="60" fill="#c0c0c0"/>
<rect x="730" y="619" width="1" height="63" fill="#c0c0c0"/>
<rect x="738" y="614" width="1" height="68" fill="#c0c0c0"/>
<rect x="746" y="615" width="1" height="67" fill="#c0c0c0"/>
<rect x="754" y="620" width="1" height="62" fill="#c0c0c0"/>
<rect x="762" y="623" width="1" height="59" fill="#c0c0c0"/>
<rect x="770" y="629" width="1" height="53" fill="#c0c0c0"/>
<rect x="778" y="638" width="1" height="44" fill="#c0c0c0"/>
<rect x="786" y="655" width="1" height="27" fill="#c0c0c0"/>
<rect x="794" y="667" width="1" height="15" fill="#c0c0c0"/>
<rect x="802" y="681" width="1" height="6" fill="#c0c0c0"/>
<rect x="810" y="681" width="1" height="21" fill="#c0c0c0"/>
<rect x="818" y="681" width="1" height="33" fill="#c0c0c0"/>
<rect x="826" y="681" width="1" height="39" fill="#c0c0c0"/>
<rect x="834" y="681" width="1" height="42" fill="#c0c0c0"/>
<rect x="842" y="681" width="1" height="40" fill="#c0c0c0"/>
<rect x="850" y="681" width="1" height="37" fill="#c0c0c0"/>
<rect x="858" y="681" width="1" height="37" fill="#c0c0c0"/>
<rect x="866" y="681" width="1" height="36" fill="#c0c0c0"/>
<rect x="874" y="681" width="1" height="41" fill="#c0c0c0"/>
<rect x="882" y="681" width="1" height="48" fill="#c0c0c0"/>
<rect x="890" y="681" width="1" height="54" fill="#c0c0c0"/>
<rect x="898" y="681" width="1" height="56" fill="#c0c0c0"/>
<rect x="906" y="681" width="1" height="59" fill="#c0c0c0"/>
<rect x="914" y="681" width="1" height="58" fill="#c0c0c0"/>
<rect x="922" y="681" width="1" height="52" fill="#c0c0c0"/>
<rect x="930" y="681" width="1" height="47" fill="#c0c0c0"/>
<rect x="938" y="681" width="1" height="40" fill="#c0c0c0"/>
<rect x="946" y="681" width="1" height="34" fill="#c0c0c0"/>
<rect x="954" y="681" width="1" height="29" fill="#c0c0c0"/>
<rect x="962" y="681" width="1" height="24" fill="#c0c0c0"/>
<rect x="970" y="681" width="1" height="16" fill="#c0c0c0"/>
<rect x="978" y="681" width="1" height="16" fill="#c0c0c0"/>
<rect x="986" y="681" width="1" height="14" fill="#c0c0c0"/>
<rect x="994" y="681" width="1" height="11" fill="#c0c0c0"/>
<rect x="1002" y="681" width="1" height="3" fill="#c0c0c0"/>
<rect x="1010" y="679" width="1" height="3" fill="#c0c0c0"/>
<rect x="1018" y="673" width="1" height="9" fill="#c0c0c0"/>
<rect x="1026" y="675" width="1" height="7" fill="#c0c0c0"/>
<rect x="1034" y="673" width="1" height="9" fill="#c0c0c0"/>
<rect x="1042" y="676" width="1" height="6" fill="#c0c0c0"/>
<rect x="1050" y="678" width="1" height="4" fill="#c0c0c0"/>
<rect x="1058" y="680" width="1" height="2" fill="#c0c0c0"/>
<rect x="1066" y="680" width="1" height="2" fill="#c0c0c0"/>
<rect x="1074" y="680" width="1" height="2" fill="#c0c0c0"/>
<rect x="1082" y="671" width="1" height="11" fill="#c0c0c0"/>
<rect x="1090" y="667" width="1" height="15" fill="#c0c0c0"/>
<rect x="1098" y="666" width="1" height="16" fill="#c0c0c0"/>
<rect x="1106" y="664" width="1" height="18" fill="#c0c0c0"/>
<rect x="1114" y="665" width="1" height="17" fill="#c0c0c0"/>
<rect x="1122" y="665" width="1" height="17" fill="#c0c0c0"/>
<rect x="1130" y="668" width="1" height="14" fill="#c0c0c0"/>
<rect x="1138" y="672" width="1" height="10" fill="#c0c0c0"/>
<rect x="1146" y="675" width="1" height="7" fill="#c0c0c0"/>
<rect x="1154" y="679" width="1" height="3" fill="#c0c0c0"/>
<rect x="1162" y="681" width="1" height="1" fill="#c0c0c0"/>
<rect x="1170" y="675" width="1" height="7" fill="#c0c0c0"/>
<rect x="1178" y="676" width="1" height="6" fill="#c0c0c0"/>
<rect x="1186" y="670" width="1" height="12" fill="#c0c0c0"/>
<rect x="1194" y="663" width="1" height="19" fill="#c0c0c0"/>
<rect x="1202" y="657" width="1" height="25" fill="#c0c0c0"/>
<rect x="1210" y="654" width="1" height="28" fill="#c0c0c0"/>
<rect x="1218" y="647" width="1" height="35" fill="#c0c0c0"/>
<rect x="1226" y="643" width="1" height="39" fill="#c0c0c0"/>
<rect x="1234" y="646" width="1" height="36" fill="#c0c0c0"/>
<rect x="1242" y="646" width="1" height="36" fill="#c0c0c0"/>
<rect x="1250" y="644" width="1" height="38" fill="#c0c0c0"/>
<rect x="1258" y="643" width="1" height="39" fill="#c0c0c0"/>
<rect x="1266" y="641" width="1" height="41" fill="#c0c0c0"/>
<rect x="1274" y="640" width="1" height="42" fill="#c0c0c0"/>
<rect x="1282" y="640" width="1" height="42" fill="#c0c0c0"/>
<rect x="1290" y="639" width="1" height="43" fill="#c0c0c0"/>
<rect x="1298" y="637" width="1" height="45" fill="#c0c0c0"/>
<rect x="1306" y="635" width="1" height="47" fill="#c0c0c0"/>
<rect x="1314" y="633" width="1" height="49" fill="#c0c0c0"/>
<rect x="1322" y="630" width="1" height="52" fill="#c0c0c0"/>
<rect x="1330" y="630" width="1" height="52" fill="#c0c0c0"/>
<rect x="1338" y="633" width="1" height="49" fill="#c0c0c0"/>
<rect x="1346" y="635" width="1" height="47" fill="#c0c0c0"/>
<rect x="1354" y="636" width="1" height="46" fill="#c0c0c0"/>
<rect x="1362" y="634" width="1" height="48" fill="#c0c0c0"/>
<rect x="1370" y="635" width="1" height="47" fill="#c0c0c0"/>
<rect x="1378" y="632" width="1" height="50" fill="#c0c0c0"/>
<rect x="1386" y="631" width="1" height="51" fill="#c0c0c0"/>
<rect x="1394" y="633" width="1" height="49" fill="#c0c0c0"/>
<rect x="1402" y="637" width="1" height="45" fill="#c0c0c0"/>
<rect x="1410" y="640" width="1" height="42" fill="#c0c0c0"/>
<rect x="1418" y="644" width="1" height="38" fill="#c0c0c0"/>
<rect x="1426" y="650" width="1" height="32" fill="#c0c0c0"/>
<rect x="1434" y="658" width="1" height="24" fill="#c0c0c0"/>
<rect x="1442" y="661" width="1" height="21" fill="#c0c0c0"/>
<rect x="1450" y="663" width="1" height="19" fill="#c0c0c0"/>
<rect x="1458" y="659" width="1" height="23" fill="#c0c0c0"/>
<rect x="1466" y="653" width="1" height="29" fill="#c0c0c0"/>
<rect x="1474" y="646" width="1" height="36" fill="#c0c0c0"/>
<rect x="1482" y="643" width="1" height="39" fill="#c0c0c0"/>
<rect x="1685" y="579" width="1" height="1" fill="#000"/>
<rect x="1685" y="681" width="2" height="1" fill="#000"/>
<rect x="1685" y="746" width="1" height="1" fill="#000"/>
</g>
<polyline points="0.0,692.1 10.0,698.3 18.7,703.3 26.2,707.0 34.9,711.3 43.7,713.3 52.4,715.3 59.9,716.3 67.4,716.3 74.9,714.5 84.9,711.5 94.8,707.5 104.8,703.3 113.6,697.5 122.3,691.3 129.8,684.6 138.5,675.8 147.2,665.8 154.7,655.9 162.2,648.4 171.0,639.6 178.4,633.4 185.9,628.9 194.7,627.2 203.4,625.4 212.1,625.4 219.6,627.2 227.1,630.9 234.6,635.9 242.1,642.1 249.6,648.4 258.3,652.9 267.0,658.4 274.5,663.3 282.0,668.8 290.7,674.6 298.2,679.6 305.7,683.3 314.4,686.6 321.9,688.8 330.7,689.6 338.2,690.8 346.9,691.3 354.4,690.3 361.9,687.8 369.4,684.6 378.1,679.6 385.6,675.8 394.3,672.1 401.8,668.8 409.3,665.8 418.0,663.3 424.0,661.6 434.0,660.9 444.0,659.1 453.9,657.9 463.9,655.9 473.9,653.4 483.9,650.4 491.4,646.6 498.9,642.9 506.4,638.4 513.8,632.9 521.3,625.9 528.8,619.7 536.3,614.7 543.8,608.9 551.3,604.2 558.8,600.2 566.3,595.5 571.2,593.5 578.7,592.5 586.2,591.5 593.7,592.5 601.2,593.5 608.7,596.7 616.2,599.2 623.7,602.2 631.1,605.4 638.6,608.9 646.1,611.4 653.6,613.4 663.6,615.2 671.1,618.4 678.6,620.9 688.5,622.7 696.0,625.2 706.0,626.4 716.0,628.4 726.0,628.4 736.0,627.7 745.9,625.9 755.9,624.7 762.2,622.4 773.4,622.4 783.4,622.9 790.9,627.9 798.3,634.6 808.3,644.6 817.1,655.9 823.3,666.3 833.3,680.8 843.3,693.3 848.0,698.3 858.0,707.0 866.7,712.0 875.5,716.5 885.4,720.7 892.9,722.7 901.7,725.2 910.4,727.5 919.1,728.7 927.9,730.0 937.8,731.0 947.8,730.0 955.3,727.7 962.8,723.7 970.3,720.0 977.8,715.8 985.3,710.8 992.7,706.5 1000.2,703.3 1007.7,698.3 1015.2,693.3 1022.7,688.8 1030.2,685.3 1040.2,682.8 1047.7,680.1 1057.6,678.8 1065.1,676.6 1075.1,676.3 1085.1,675.1 1095.1,673.8 1105.1,672.1 1115.0,671.6 1122.5,670.1 1130.0,668.3 1140.0,667.6 1150.0,667.6 1158.7,668.8 1167.4,670.8 1177.4,672.1 1187.4,672.3 1197.4,672.1 1204.9,670.8 1212.4,668.3 1219.8,665.3 1227.3,661.6 1234.8,657.9 1242.3,655.1 1249.8,651.6 1257.3,648.9 1264.8,647.1 1272.0,643.9 1282.0,642.1 1297.0,641.4 1311.9,638.9 1324.4,637.1 1334.4,634.1 1346.9,633.9 1361.8,633.4 1376.8,632.7 1391.8,632.4 1404.3,633.4 1416.7,635.1 1429.2,636.6 1436.7,640.9 1446.7,643.4 1456.7,647.1 1464.2,650.4 1471.7,652.1 1481.6,652.5" fill="none" stroke="#ff0000" stroke-width="1" stroke-dasharray="3 3" shape-rendering="crispEdges"/>
<text x="-1" y="590" font-size="9.8" fill="#000" text-anchor="start" textLength="147.6" lengthAdjust="spacingAndGlyphs">MACD(12,26,9) 0.006249 0.004664</text>
<text x="1688" y="588.5" font-size="9.8" fill="#000" text-anchor="start" textLength="28" lengthAdjust="spacingAndGlyphs">0.0165</text>
<text x="1688" y="685" font-size="9.8" fill="#000" text-anchor="start" textLength="17.6" lengthAdjust="spacingAndGlyphs">0.00</text>
<text x="1688" y="745" font-size="9.8" fill="#000" text-anchor="start" textLength="40.4" lengthAdjust="spacingAndGlyphs">-0.010571</text>
<g shape-rendering="crispEdges">
<line x1="0" y1="785.5" x2="1684" y2="785.5" stroke="#c0c0c0" stroke-dasharray="3 3"/>
<line x1="0" y1="836.5" x2="1684" y2="836.5" stroke="#c0c0c0" stroke-dasharray="3 3"/>
<line x1="0" y1="897.5" x2="1684" y2="897.5" stroke="#c0c0c0" stroke-dasharray="3 3"/>
<rect x="1685" y="751" width="1" height="1" fill="#000"/>
<rect x="1685" y="922" width="1" height="1" fill="#000"/>
</g>
<polyline points="-6.0,862.0 2.0,868.5 10.0,851.1 18.0,844.3 26.0,846.1 34.0,848.1 42.0,853.1 50.0,851.1 58.0,848.6 66.0,831.6 74.0,839.1 82.0,833.6 90.0,831.9 98.0,830.4 106.0,816.1 114.0,807.4 122.0,808.6 130.0,806.7 138.0,801.9 146.0,798.7 154.0,796.9 162.0,801.2 170.0,801.2 178.0,823.6 186.0,834.9 194.0,832.9 202.0,820.6 210.0,826.9 218.0,831.1 226.0,844.3 234.0,851.1 242.0,852.3 250.0,834.1 258.0,832.4 266.0,843.6 274.0,842.3 282.0,849.1 290.0,850.3 298.0,852.3 306.0,843.6 314.0,834.9 322.0,834.4 330.0,833.1 338.0,833.1 346.0,830.4 354.0,826.1 362.0,817.4 370.0,818.6 378.0,815.4 386.0,816.6 394.0,829.4 402.0,827.4 410.0,824.4 418.0,829.4 426.0,828.4 434.0,828.4 442.0,815.6 450.0,807.4 458.0,808.6 466.0,807.4 474.0,801.7 482.0,800.4 490.0,792.9 498.0,789.4 506.0,785.7 514.0,778.2 522.0,781.2 530.0,782.4 538.0,786.9 546.0,787.4 554.0,784.4 562.0,783.2 570.0,805.4 578.0,805.4 586.0,802.4 594.0,808.1 602.0,810.6 610.0,807.9 618.0,804.4 626.0,802.4 634.0,802.4 642.0,787.4 650.0,818.1 658.0,808.6 666.0,827.4 674.0,827.4 682.0,830.6 690.0,821.1 698.0,814.4 706.0,817.4 714.0,805.4 722.0,804.2 730.0,804.2 738.0,801.2 746.0,809.9 754.0,823.6 762.0,820.4 770.0,826.1 778.0,837.3 786.0,856.8 794.0,853.1 802.0,866.0 810.0,867.3 818.0,865.3 826.0,860.6 834.0,856.1 842.0,845.6 850.0,844.3 858.0,849.3 866.0,848.6 874.0,858.1 882.0,864.0 890.0,866.5 898.0,860.3 906.0,862.3 914.0,857.3 922.0,842.3 930.0,843.6 938.0,837.3 946.0,840.3 954.0,834.4 962.0,835.6 970.0,827.4 978.0,841.1 986.0,837.3 994.0,834.9 1002.0,823.1 1010.0,824.1 1018.0,820.4 1026.0,838.1 1034.0,829.4 1042.0,841.6 1050.0,838.6 1058.0,839.1 1066.0,836.6 1074.0,835.4 1082.0,817.4 1090.0,824.1 1098.0,829.1 1106.0,827.4 1114.0,831.9 1122.0,830.4 1130.0,836.1 1138.0,843.1 1146.0,839.3 1154.0,843.1 1162.0,844.3 1170.0,820.6 1178.0,838.1 1186.0,823.1 1194.0,821.1 1202.0,819.4 1210.0,821.1 1218.0,813.6 1226.0,817.9 1234.0,830.4 1242.0,825.6 1250.0,821.6 1258.0,821.4 1266.0,818.1 1274.0,819.1 1282.0,819.1 1290.0,816.1 1298.0,814.1 1306.0,811.1 1314.0,808.1 1322.0,806.2 1330.0,812.4 1338.0,821.6 1346.0,818.6 1354.0,816.9 1362.0,807.4 1370.0,818.1 1378.0,809.4 1386.0,810.6 1394.0,816.1 1402.0,826.1 1410.0,824.9 1418.0,824.9 1426.0,836.1 1434.0,847.3 1442.0,834.9 1450.0,831.9 1458.0,818.1 1466.0,811.9 1474.0,806.2 1482.0,815.4" fill="none" stroke="#1e90ff" stroke-width="1" shape-rendering="crispEdges"/>
<text x="-1" y="762" font-size="9.8" fill="#000" text-anchor="start" textLength="67.6" lengthAdjust="spacingAndGlyphs">RSI(14) 61.6610</text>
<text x="1688.5" y="760" font-size="9.8" fill="#000" text-anchor="start" textLength="14.6" lengthAdjust="spacingAndGlyphs">100</text>
<text x="1687.2" y="788.5" font-size="9.8" fill="#000" text-anchor="start" textLength="9.8" lengthAdjust="spacingAndGlyphs">80</text>
<text x="1687.2" y="839.5" font-size="9.8" fill="#000" text-anchor="start" textLength="9.8" lengthAdjust="spacingAndGlyphs">50</text>
<text x="1687.2" y="900.5" font-size="9.8" fill="#000" text-anchor="start" textLength="9.8" lengthAdjust="spacingAndGlyphs">15</text>
<text x="1688.5" y="920" font-size="9.8" fill="#000" text-anchor="start" textLength="5.0" lengthAdjust="spacingAndGlyphs">0</text>
<g shape-rendering="crispEdges">
<rect x="-6" y="924" width="1" height="3" fill="#000"/>
<rect x="58" y="924" width="1" height="3" fill="#000"/>
<rect x="122" y="924" width="1" height="3" fill="#000"/>
<rect x="186" y="924" width="1" height="3" fill="#000"/>
<rect x="250" y="924" width="1" height="3" fill="#000"/>
<rect x="314" y="924" width="1" height="3" fill="#000"/>
<rect x="378" y="924" width="1" height="3" fill="#000"/>
<rect x="442" y="924" width="1" height="3" fill="#000"/>
<rect x="506" y="924" width="1" height="3" fill="#000"/>
<rect x="570" y="924" width="1" height="3" fill="#000"/>
<rect x="634" y="924" width="1" height="3" fill="#000"/>
<rect x="698" y="924" width="1" height="3" fill="#000"/>
<rect x="762" y="924" width="1" height="3" fill="#000"/>
<rect x="826" y="924" width="1" height="3" fill="#000"/>
<rect x="890" y="924" width="1" height="3" fill="#000"/>
<rect x="954" y="924" width="1" height="3" fill="#000"/>
<rect x="1018" y="924" width="1" height="3" fill="#000"/>
<rect x="1082" y="924" width="1" height="3" fill="#000"/>
<rect x="1146" y="924" width="1" height="3" fill="#000"/>
<rect x="1210" y="924" width="1" height="3" fill="#000"/>
<rect x="1274" y="924" width="1" height="3" fill="#000"/>
<rect x="1338" y="924" width="1" height="3" fill="#000"/>
<rect x="1402" y="924" width="1" height="3" fill="#000"/>
<rect x="1466" y="924" width="1" height="3" fill="#000"/>
</g>
<text x="-6.8" y="936" font-size="9.8" fill="#000" text-anchor="start" textLength="55.6" lengthAdjust="spacingAndGlyphs">15 May 2020</text>
<text x="57.2" y="936" font-size="9.8" fill="#000" text-anchor="start" textLength="55.6" lengthAdjust="spacingAndGlyphs">25 May 2020</text>
<text x="121.2" y="936" font-size="9.8" fill="#000" text-anchor="start" textLength="45.8" lengthAdjust="spacingAndGlyphs">3 Jun 2020</text>
<text x="185.2" y="936" font-size="9.8" fill="#000" text-anchor="start" textLength="50.3" lengthAdjust="spacingAndGlyphs">12 Jun 2020</text>
<text x="249.2" y="936" font-size="9.8" fill="#000" text-anchor="start" textLength="50.6" lengthAdjust="spacingAndGlyphs">22 Jun 2020</text>
<text x="313.2" y="936" font-size="9.8" fill="#000" text-anchor="start" textLength="42.1" lengthAdjust="spacingAndGlyphs">1 Jul 2020</text>
<text x="377.2" y="936" font-size="9.8" fill="#000" text-anchor="start" textLength="47.1" lengthAdjust="spacingAndGlyphs">10 Jul 2020</text>
<text x="441.2" y="936" font-size="9.8" fill="#000" text-anchor="start" textLength="47.6" lengthAdjust="spacingAndGlyphs">20 Jul 2020</text>
<text x="505.2" y="936" font-size="9.8" fill="#000" text-anchor="start" textLength="47.6" lengthAdjust="spacingAndGlyphs">29 Jul 2020</text>
<text x="569.2" y="936" font-size="9.8" fill="#000" text-anchor="start" textLength="48.3" lengthAdjust="spacingAndGlyphs">7 Aug 2020</text>
<text x="633.2" y="936" font-size="9.8" fill="#000" text-anchor="start" textLength="53.3" lengthAdjust="spacingAndGlyphs">17 Aug 2020</text>
<text x="697.2" y="936" font-size="9.8" fill="#000" text-anchor="start" textLength="53.3" lengthAdjust="spacingAndGlyphs">26 Aug 2020</text>
<text x="761.2" y="936" font-size="9.8" fill="#000" text-anchor="start" textLength="47.1" lengthAdjust="spacingAndGlyphs">4 Sep 2020</text>
<text x="825.2" y="936" font-size="9.8" fill="#000" text-anchor="start" textLength="52.6" lengthAdjust="spacingAndGlyphs">14 Sep 2020</text>
<text x="889.2" y="936" font-size="9.8" fill="#000" text-anchor="start" textLength="52.6" lengthAdjust="spacingAndGlyphs">23 Sep 2020</text>
<text x="953.2" y="936" font-size="9.8" fill="#000" text-anchor="start" textLength="46.6" lengthAdjust="spacingAndGlyphs">2 Oct 2020</text>
<text x="1017.2" y="936" font-size="9.8" fill="#000" text-anchor="start" textLength="51.3" lengthAdjust="spacingAndGlyphs">12 Oct 2020</text>
<text x="1081.2" y="936" font-size="9.8" fill="#000" text-anchor="start" textLength="51.3" lengthAdjust="spacingAndGlyphs">21 Oct 2020</text>
<text x="1145.2" y="936" font-size="9.8" fill="#000" text-anchor="start" textLength="51.1" lengthAdjust="spacingAndGlyphs">30 Oct 2020</text>
<text x="1209.2" y="936" font-size="9.8" fill="#000" text-anchor="start" textLength="48.8" lengthAdjust="spacingAndGlyphs">9 Nov 2020</text>
<text x="1273.2" y="936" font-size="9.8" fill="#000" text-anchor="start" textLength="54.1" lengthAdjust="spacingAndGlyphs">18 Nov 2020</text>
<text x="1337.2" y="936" font-size="9.8" fill="#000" text-anchor="start" textLength="54.1" lengthAdjust="spacingAndGlyphs">27 Nov 2020</text>
<text x="1401.2" y="936" font-size="9.8" fill="#000" text-anchor="start" textLength="47.1" lengthAdjust="spacingAndGlyphs">7 Dec 2020</text>
<text x="1465.2" y="936" font-size="9.8" fill="#000" text-anchor="start" textLength="52.1" lengthAdjust="spacingAndGlyphs">16 Dec 2020</text>
</svg>
<div class="t" style="left:0;top:26px;">
<svg width="5" height="5" style="position:absolute;left:0;top:3px"><polygon points="0,0 4.2,3.8 0,3.8" fill="#000"/></svg>
</div>
<div id="ot" style="position:absolute;left:0;top:42px;width:218px;height:64px;background:#fff;">
 <div style="position:absolute;left:0;top:0;width:49px;height:25px;background:linear-gradient(#fa5252,#e23030);border-top:1px solid #c81414;border-right:1px solid #c81414;box-sizing:border-box"></div>
 <div style="position:absolute;left:164px;top:0;width:52px;height:25px;background:linear-gradient(#fa5252,#e23030);border-top:1px solid #c81414;border-right:1px solid #c81414;border-left:1px solid #c81414;box-sizing:border-box"></div>
 <div style="position:absolute;left:0;top:24px;width:106px;height:40px;background:linear-gradient(#e03030,#cc1a1a 50%,#ad0000);border-right:1px solid #a00000;border-bottom:1px solid #a00000;box-sizing:border-box"></div>
 <div style="position:absolute;left:108px;top:24px;width:108px;height:40px;background:linear-gradient(#e03030,#cc1a1a 50%,#ad0000);border-right:1px solid #a00000;border-bottom:1px solid #a00000;border-left:1px solid #c01010;box-sizing:border-box"></div>
 <div style="position:absolute;left:1px;top:22px;width:44px;height:1px;background:#8c0000"></div>
 <div style="position:absolute;left:1px;top:23px;width:44px;height:1px;background:#f46a6a"></div>
 <div style="position:absolute;left:168px;top:22px;width:44px;height:1px;background:#8c0000"></div>
 <div style="position:absolute;left:168px;top:23px;width:44px;height:1px;background:#f46a6a"></div>
 <div class="t" id="sell" style="left:9px;top:5.2px;font-size:12.5px;line-height:14px;color:#fff;transform:scaleX(0.84);transform-origin:0 0;">SELL</div>
 <div class="t" id="buy" style="left:177.6px;top:5.2px;font-size:12.5px;line-height:14px;color:#fff;transform:scaleX(0.92);transform-origin:0 0;">BUY</div>
 <!-- spinner -->
 <div style="position:absolute;left:51px;top:0;width:111px;height:22px;border:1px solid #a3a9b8;box-sizing:border-box;background:#fff"></div>
 <div style="position:absolute;left:52px;top:1px;width:21px;height:20px;background:linear-gradient(#f4f4f4 0,#ececec 48%,#d8d8d8 52%,#cfcfcf);border-right:1px solid #a3a9b8;box-sizing:border-box"></div>
 <div style="position:absolute;left:140px;top:1px;width:21px;height:20px;background:linear-gradient(#f4f4f4 0,#ececec 48%,#d8d8d8 52%,#cfcfcf);border-left:1px solid #a3a9b8;box-sizing:border-box"></div>
 <svg width="8" height="5" style="position:absolute;left:58px;top:9px"><polygon points="0.5,0.5 6.5,0.5 3.5,3.8" fill="#4a64c8"/></svg>
 <svg width="8" height="5" style="position:absolute;left:147px;top:8px"><polygon points="0.5,4 6.5,4 3.5,0.6" fill="#4a64c8"/></svg>
 <div class="t" id="lot" style="left:113.5px;top:3.7px;font-size:11.8px;line-height:14px;color:#000;">1.00</div>
 <!-- prices -->
 <div class="t" style="left:17px;top:44px;font-size:12px;line-height:14px;font-weight:bold;color:#fff;transform:scaleX(0.97);transform-origin:0 0;">1.35</div>
 <div class="t" style="left:44.6px;top:23.6px;font-size:35.6px;line-height:38px;color:#fff;transform:scaleX(0.865);transform-origin:0 0;">05</div>
 <div class="t" style="left:84px;top:27.3px;font-size:11.5px;line-height:14px;font-weight:bold;color:#fff;">7</div>
 <div class="t" style="left:127px;top:44px;font-size:12px;line-height:14px;font-weight:bold;color:#fff;transform:scaleX(0.97);transform-origin:0 0;">1.35</div>
 <div class="t" style="left:155px;top:23.6px;font-size:35.6px;line-height:38px;color:#fff;transform:scaleX(0.885);transform-origin:0 0;">08</div>
 <div class="t" style="left:195px;top:27.3px;font-size:11.5px;line-height:14px;font-weight:bold;color:#fff;">5</div>
</div>

<div id="tb">
<svg width="1731" height="20" viewBox="0 0 1731 20" style="position:absolute;left:0;top:0">
<defs>
<linearGradient id="gpl" x1="0" y1="0" x2="0" y2="1"><stop offset="0" stop-color="#5ee05e"/><stop offset="1" stop-color="#0fa00f"/></linearGradient>
<linearGradient id="ggd" x1="0" y1="0" x2="1" y2="1"><stop offset="0" stop-color="#f6d860"/><stop offset="1" stop-color="#c08a18"/></linearGradient>
<linearGradient id="gbd" x1="0" y1="0" x2="0" y2="1"><stop offset="0" stop-color="#ec4a2a"/><stop offset="1" stop-color="#cc1c0c"/></linearGradient>
<radialGradient id="glens" cx="0.4" cy="0.4" r="0.7"><stop offset="0" stop-color="#f4faff"/><stop offset="1" stop-color="#b8d8f4"/></radialGradient>
<g id="plus"><path d="M-1.7,-5.8h3.4v4.1h4.1v3.4h-4.1v4.1h-3.4v-4.1h-4.1v-3.4h4.1z" fill="url(#gpl)" stroke="#0a8a0a" stroke-width="0.8"/></g>
<g id="dd"><polygon points="0,0 5.4,0 2.7,3.1" fill="#000"/></g>
<g id="axes" fill="none" stroke="#505050" stroke-width="1.2"><path d="M3,-3V14M0.5,11.4H14"/><path d="M12,9.6L14.2,11.4L12,13.2" stroke-width="1"/></g>
<g id="grip" fill="#a8a8a8"><rect x="0" y="0" width="3.4" height="1"/><rect x="0" y="2" width="3.4" height="1"/><rect x="0" y="4" width="3.4" height="1"/><rect x="0" y="6" width="3.4" height="1"/><rect x="0" y="8" width="3.4" height="1"/><rect x="0" y="10" width="3.4" height="1"/><rect x="0" y="12" width="3.4" height="1"/><rect x="0" y="14" width="3.4" height="1"/></g>
<pattern id="chk" width="2" height="2" patternUnits="userSpaceOnUse"><rect width="2" height="2" fill="#f0f0f0"/><rect width="1" height="1" fill="#fbfbfb"/><rect x="1" y="1" width="1" height="1" fill="#fbfbfb"/></pattern>
<linearGradient id="gmon" x1="0" y1="0" x2="0" y2="1"><stop offset="0" stop-color="#48b8f8"/><stop offset="1" stop-color="#0c80e4"/></linearGradient><linearGradient id="gcl" x1="0" y1="0" x2="0" y2="1"><stop offset="0" stop-color="#ffffff"/><stop offset="1" stop-color="#bcc6dc"/></linearGradient>
</defs>
<!-- icon1 blue doc -->
<rect x="-2" y="-3" width="9.5" height="15.3" fill="#fff" stroke="#4a80d4" stroke-width="1.2"/>
<path d="M0,1.5H6M0,3.5H6M0,5.5H6M0,7.5H6" stroke="#a8c8f4" stroke-width="0.8"/>
<!-- icon2 doc+magnifier -->
<rect x="21" y="-3" width="11.5" height="14" fill="#fafafa" stroke="#a0a0a0" stroke-width="0.8"/>
<line x1="31.5" y1="10.2" x2="36.6" y2="14.6" stroke="#c8a02c" stroke-width="2.2" stroke-linecap="round"/>
<circle cx="28.2" cy="6.4" r="4.7" fill="url(#glens)" fill-opacity="0.9" stroke="#7aa8e0" stroke-width="1.1"/>
<rect x="26.6" y="3.2" width="2.6" height="5" fill="#98b0cc" opacity="0.7"/>
<!-- sep -->
<rect x="45" y="0" width="1" height="16" fill="#a0a0a0"/>
<!-- icon3 new order -->
<path d="M56,-3H63.5L66.6,0.2V11.2H56Z" fill="#fcfcfc" stroke="#8c8c8c" stroke-width="0.9"/>
<path d="M58,2.5H62M58,4.8H63M58,7H62" stroke="#a0a0a0" stroke-width="0.9"/>
<use href="#plus" x="65.2" y="10.1"/>
<text x="73.5" y="8.6" font-size="12.2" fill="#000" font-family="Liberation Sans, Noto Sans CJK SC, sans-serif">新订单</text>
<!-- icon4 gold tag -->
<path d="M128,-3L137.8,7.7L129.8,13.7L122.1,7.8Z" fill="url(#ggd)" stroke="#a87818" stroke-width="0.9"/>
<path d="M122.4,8.2L129.7,13.7" fill="none" stroke="#a06808" stroke-width="1.8"/>
<path d="M123.4,7.4L130.4,12.6" fill="none" stroke="#f4dc80" stroke-width="0.8"/>
<path d="M130.2,13.4L137.6,7.9" fill="none" stroke="#8a5c08" stroke-width="1"/>
<path d="M130.4,12.2L136.6,7.6" fill="none" stroke="#e8dca8" stroke-width="1"/>
<!-- icon5 monitor + cloud -->
<rect x="152.6" y="-3" width="10.2" height="10" fill="url(#gmon)" stroke="#1478d8" stroke-width="0.7"/>
<rect x="157" y="2.4" width="4.4" height="1.3" fill="#c8ecff"/>
<path d="M155.6,-3V6.4" stroke="#bfe6ff" stroke-width="0.9"/>
<path d="M153,13.5H163.2A2.9,2.9 0 0 0 163.6,7.9A2.6,2.6 0 0 0 160.3,7.3A3.6,3.6 0 0 0 153.7,8.2A2.7,2.7 0 0 0 153,13.5Z" fill="url(#gcl)" stroke="#5270ae" stroke-width="1.1"/>
<!-- icon6 signal -->
<path d="M185.9,-1.6a7.7,7.7 0 0 1 0,15.4z" fill="#8cc88c" opacity="0.55"/><path d="M185.9,-1.6a7.7,7.7 0 0 0 0,15.4z" fill="#c8d8f0" opacity="0.5"/>
<g fill="none" stroke-width="1.1">
<path d="M185.9,-1.6a7.7,7.7 0 0 0 0,15.4" stroke="#a8bce0"/>
<path d="M185.9,1.2a4.9,4.9 0 0 0 0,9.8" stroke="#7c98d0"/>
<path d="M185.9,-1.6a7.7,7.7 0 0 1 0,15.4" stroke="#9ccc9c"/>
<path d="M185.9,1.2a4.9,4.9 0 0 1 0,9.8" stroke="#6cb46c"/>
</g>
<circle cx="185.9" cy="6.1" r="1.7" fill="#2c5cd0"/>
<path d="M186.4,6.5V13.4" stroke="#28a428" stroke-width="1.6"/>
<!-- icon7 expert hat -->
<ellipse cx="213" cy="2" rx="8" ry="3.2" fill="#58b4e8" stroke="#3a8cc8" stroke-width="0.7"/>
<ellipse cx="213" cy="-0.5" rx="4.4" ry="3" fill="#6cc4f0"/>
<path d="M205.8,4.6Q213,7.4 220.6,4.6L214.4,13.2H211.6Z" fill="#f4d448" stroke="#d0a820" stroke-width="0.7"/>
<circle cx="217.4" cy="9.5" r="4" fill="#e02810" stroke="#b81808" stroke-width="0.6"/>
<rect x="215.8" y="7.9" width="3.2" height="3.2" fill="#fff"/>
<text x="226.8" y="8.6" font-size="11.8" fill="#000" font-family="Liberation Sans, Noto Sans CJK SC, sans-serif">自动交易</text>
<!-- sep + grip -->
<rect x="281" y="0" width="1" height="18" fill="#8c8c8c"/>
<use href="#grip" x="284.8" y="0"/>
<!-- bar chart -->
<use href="#axes" x="296.2" y="0"/>
<path d="M305.6,1.8V8.6M305.6,2.2H308M303,8.4H305.6" fill="none" stroke="#1c9c1c" stroke-width="1.2"/>
<rect x="319" y="0" width="1" height="16" fill="#a0a0a0"/>
<!-- candle (active) -->
<rect x="320" y="0" width="24" height="16" fill="url(#chk)"/>
<use href="#axes" x="324.2" y="0"/>
<rect x="331.3" y="-3" width="4.4" height="10.3" fill="#3cd03c" stroke="#189818" stroke-width="0.9"/>
<path d="M333.5,7.4V9.6" stroke="#189818" stroke-width="1.1"/>
<!-- line chart -->
<use href="#axes" x="352.4" y="0"/>
<path d="M354.2,8.8C357,7.6 358.6,3.4 360.2,3.4S363.6,6.6 366,7.4" fill="none" stroke="#2ca02c" stroke-width="1.1"/>
<rect x="376" y="0" width="1" height="16" fill="#a0a0a0"/>
<!-- zoom in -->
<line x1="395" y1="8" x2="400" y2="12.6" stroke="#d0a828" stroke-width="2.4" stroke-linecap="round"/>
<circle cx="390.9" cy="3.9" r="5.4" fill="url(#glens)" stroke="#5a98dc" stroke-width="1.1"/>
<path d="M387.6,3.9H394.2M390.9,0.6V7.2" stroke="#3a7ccc" stroke-width="1.5"/>
<!-- zoom out -->
<line x1="423.2" y1="8" x2="428.4" y2="12.6" stroke="#d0a828" stroke-width="2.4" stroke-linecap="round"/>
<circle cx="419.1" cy="3.9" r="5.4" fill="url(#glens)" stroke="#5a98dc" stroke-width="1.1"/>
<path d="M415.8,3.9H422.4" stroke="#3a7ccc" stroke-width="1.5"/>
<!-- tiles -->
<rect x="441.2" y="-3" width="7.8" height="8.6" fill="#44ac2c"/><rect x="449.6" y="-3" width="7.8" height="8.6" fill="#2c5cd4"/>
<rect x="441.2" y="6.2" width="7.8" height="7.6" fill="#2c5cd4"/><rect x="449.6" y="6.2" width="7.8" height="7.6" fill="#44ac2c"/>
<g fill="none" stroke="#fff" stroke-width="0.9"><rect x="442.6" y="1.4" width="5" height="2.6"/><rect x="451" y="1.4" width="5" height="2.6"/><rect x="442.6" y="9.2" width="5" height="2.8"/><rect x="451" y="9.2" width="5" height="2.8"/></g>
<rect x="466" y="0" width="1" height="16" fill="#a0a0a0"/><rect x="471" y="0" width="1" height="16" fill="#a0a0a0"/>
<!-- chart shift (active) -->
<rect x="472" y="0" width="23.6" height="16" fill="url(#chk)"/>
<use href="#axes" x="476.4" y="0"/>
<path d="M484.3,2.8L488,5.7L484.3,8.6Z" fill="none" stroke="#24a024" stroke-width="1.1"/>
<rect x="499" y="0" width="1" height="16" fill="#a0a0a0"/>
<!-- autoscroll (active) -->
<rect x="500" y="0" width="23.6" height="16" fill="url(#chk)"/>
<use href="#axes" x="504.5" y="0"/>
<path d="M513.4,-1V9.6" stroke="#2878c0" stroke-width="1.1"/>
<path d="M514.6,5.6H518.8M514.4,5.6L516.8,3.6M514.4,5.6L516.8,7.6" stroke="#d84808" stroke-width="1.1" fill="none"/>
<rect x="528" y="0" width="1" height="16" fill="#a0a0a0"/>
<!-- indicators -->
<path d="M538.6,-3H546.5L549.8,0.2V11.2H538.6Z" fill="#fcfcfc" stroke="#8c8c8c" stroke-width="0.9"/>
<path d="M540.6,2.5H543M540.6,4.8H542.4" stroke="#a0a0a0" stroke-width="0.9"/>
<use href="#plus" x="548.2" y="10.1"/>
<use href="#dd" x="559.9" y="5.2"/>
<!-- clock -->
<circle cx="584.1" cy="5.6" r="6.7" fill="#fff" stroke="#1c6cdc" stroke-width="2.6"/>
<circle cx="584.1" cy="5.6" r="7.9" fill="none" stroke="#0c4cb0" stroke-width="0.5"/>
<path d="M583.6,1.4V6H587" fill="none" stroke="#303030" stroke-width="1.1"/>
<use href="#dd" x="598.9" y="5.2"/>
<!-- template -->
<rect x="615.6" y="-3" width="15" height="15.8" fill="#fff" stroke="#4a80d4" stroke-width="1.1"/>
<rect x="616.2" y="-3" width="13.8" height="4.2" fill="#6ca0e8"/>
<path d="M616,7.4H630.4" stroke="#4a80d4" stroke-width="0.9"/>
<path d="M617.6,5.2L620.4,4.6L622.6,3.2L624.6,4.2L627,3.6L629,3" fill="none" stroke="#b02810" stroke-width="1"/>
<path d="M617.6,10.8L620.4,10.2L622.6,10.6L625.2,8.4L628.6,10.6" fill="none" stroke="#1c9c1c" stroke-width="1"/>
<use href="#dd" x="637.9" y="5.2"/>
<!-- sep + grip -->
<rect x="649" y="0" width="1" height="18" fill="#8c8c8c"/>
<use href="#grip" x="653" y="0"/>
<rect x="659" y="0" width="1" height="16" fill="#a0a0a0"/>
<!-- cursor (active) -->
<rect x="660" y="0" width="24" height="16" fill="url(#chk)"/>
<path d="M667.4,-3V8.6L670,6.2L672.2,12.6L673.8,12L671.6,5.8L675,5.8Z" fill="#505050"/>
<!-- crosshair -->
<path d="M692.2,6.5H698M701,6.5H706.9M699.5,-2V5M699.5,8V13.9" stroke="#505050" stroke-width="1.1" fill="none"/>
<rect x="716" y="0" width="1" height="16" fill="#a0a0a0"/>
<!-- vline, hline, trend -->
<rect x="733" y="0" width="1.1" height="13" fill="#484848"/>
<rect x="756" y="6" width="12" height="1.1" fill="#484848"/>
<line x1="783.8" y1="13" x2="796.2" y2="0.9" stroke="#505050" stroke-width="1.1"/>
<!-- channel E -->
<g stroke="#484848" stroke-width="1.1" fill="none"><path d="M810,7.6L821,-1.6M812,12L823.4,2.4M811.8,8.6L812.4,11.6M814.4,6.4L815,9.4M817,4.2L817.6,7.2M819.6,2L820.2,5M811,10.4L822.6,0.6"/></g>
<text x="820.6" y="14.8" font-size="7" font-weight="bold" fill="#404040" font-family="Liberation Sans, sans-serif">E</text>
<!-- fib F -->
<g stroke="#505050" stroke-width="1" stroke-dasharray="1 1"><path d="M838.8,2.6H852.2M838.8,6.6H852.2M838.8,10.6H848"/></g>
<text x="848.4" y="14.8" font-size="7" font-weight="bold" fill="#404040" font-family="Liberation Sans, sans-serif">F</text>
<!-- A, T -->
<text x="869.6" y="10.8" font-size="11.6" fill="#505050" font-family="Liberation Sans, sans-serif" stroke="#505050" stroke-width="0.3">A</text>
<rect x="896.3" y="-2" width="11" height="14.4" fill="none" stroke="#505050" stroke-width="0.9" stroke-dasharray="1 1"/>
<text x="898.3" y="10.8" font-size="11" fill="#505050" font-family="Liberation Sans, sans-serif" stroke="#505050" stroke-width="0.3">T</text>
<!-- arrows -->
<path d="M926.6,-0.4L929.6,2.6L926.6,4.4L923.6,2.6Z M934,8.2L937,10.4L934,12.8L931,10.4Z" fill="#505050"/>
<path d="M925.4,7L927.4,9L931.4,5" fill="none" stroke="#505050" stroke-width="1.2"/>
<use href="#dd" x="943.9" y="5.2"/>
<rect x="955" y="0" width="1" height="18" fill="#8c8c8c"/>
<use href="#grip" x="959" y="0"/>
<!-- timeframes -->
<g font-size="9.8" fill="#404040" font-family="Liberation Sans, sans-serif">
<text x="970" y="10" textLength="13.4" lengthAdjust="spacingAndGlyphs">M1</text><text x="998.1" y="10" textLength="13.4" lengthAdjust="spacingAndGlyphs">M5</text><text x="1024.1" y="10" textLength="18.2" lengthAdjust="spacingAndGlyphs">M15</text><text x="1052.2" y="10" textLength="18.7" lengthAdjust="spacingAndGlyphs">M30</text><text x="1083.4" y="10" textLength="11.8" lengthAdjust="spacingAndGlyphs">H1</text><text x="1110.3" y="10" textLength="13" lengthAdjust="spacingAndGlyphs">H4</text>
<rect x="1133" y="0" width="1" height="16" fill="#a0a0a0"/>
<rect x="1134" y="0" width="24" height="16" fill="url(#chk)"/>
<text x="1139.1" y="10" textLength="12.3" lengthAdjust="spacingAndGlyphs">D1</text><text x="1167" y="10" textLength="14.6" lengthAdjust="spacingAndGlyphs">W1</text><text x="1193.1" y="10" textLength="15.2" lengthAdjust="spacingAndGlyphs">MN</text>
</g>
<rect x="1216" y="0" width="1" height="18" fill="#8c8c8c"/>
<!-- right magnifier -->
<line x1="1683.6" y1="7.2" x2="1678.8" y2="11.2" stroke="#2a62d8" stroke-width="2.8"/>
<circle cx="1686.7" cy="3.5" r="4" fill="#fff" stroke="#2a62d8" stroke-width="1.3"/>
<!-- chat bubble + badge -->
<path d="M1706.2,14.6L1707.4,12.4A5.8,4.7 0 1 1 1709,12.7Z" fill="#e2e2ea" stroke="#b4b4b4" stroke-width="0.8"/>
<circle cx="1717.4" cy="4.1" r="8" fill="url(#gbd)"/>
<text x="1717.2" y="8" font-size="12.5" font-weight="bold" fill="#fff" text-anchor="middle" font-family="Liberation Serif, serif">1</text>
<!-- bottom edge -->
<rect x="0" y="17" width="1731" height="1" fill="#dedede"/><rect x="0" y="18" width="1731" height="1" fill="#a2a2a2"/><rect x="0" y="19" width="1731" height="1" fill="#646464"/>
</svg>
</div>

<div id="redge"></div>
</body></html>
